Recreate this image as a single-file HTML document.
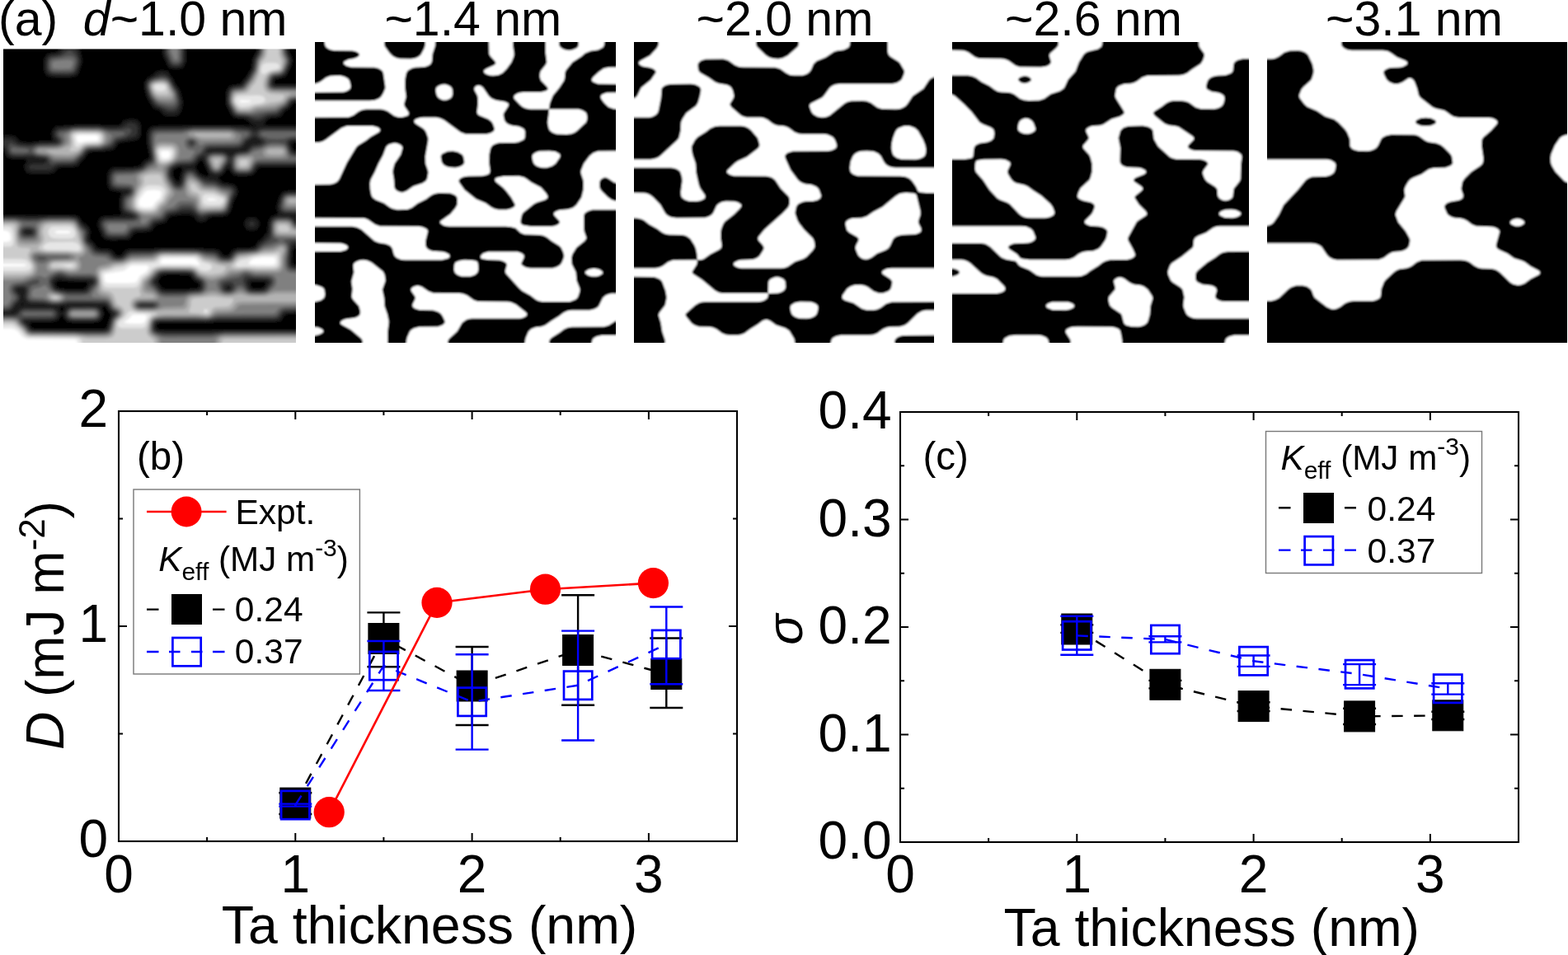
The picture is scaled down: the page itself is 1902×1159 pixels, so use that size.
<!DOCTYPE html><html><head><meta charset="utf-8"><title>Figure</title><style>html,body{margin:0;padding:0;background:#fff;overflow:hidden}svg{display:block}text{font-family:"Liberation Sans", Arial, sans-serif;fill:#000}</style></head><body>
<svg width="1902" height="1159" viewBox="0 0 1902 1159">
<rect width="1902" height="1159" fill="#fff"/>
<defs>
<clipPath id="cp1"><rect x="4" y="59.5" width="355" height="356.5"/></clipPath>
<clipPath id="cp2"><rect x="382" y="51" width="365" height="365"/></clipPath>
<clipPath id="cp3"><rect x="769" y="51" width="364" height="365"/></clipPath>
<clipPath id="cp4"><rect x="1155" y="51" width="360" height="365"/></clipPath>
<clipPath id="cp5"><rect x="1537" y="51" width="364" height="365"/></clipPath>
<filter id="soft" x="-5%" y="-5%" width="110%" height="110%"><feGaussianBlur stdDeviation="1.1"/></filter>
<filter id="soft2" x="-5%" y="-5%" width="110%" height="110%"><feGaussianBlur stdDeviation="1.8"/></filter>
</defs>
<g clip-path="url(#cp1)"><g filter="url(#soft2)"><rect x="-6" y="49.5" width="375" height="376" fill="#000"/><path fill="#1a1a1a" fill-rule="evenodd" d="M89.5 93.1L82.5 93.8L62.5 93.5L57.5 91.9L55.5 90.1L54.2 88.0L53.1 84.0L52.9 79.0L53.1 74.0L54.1 70.0L56.1 67.0L58.5 65.4L61.5 64.4L68.5 63.5L70.5 62.3L71.5 60.0L71.5 52.0L75.5 51.4L84.5 51.2L93.5 51.4L97.4 52.0L97.5 62.0L99.7 72.0L99.4 77.0L95.3 89.0L92.5 91.9L89.5 93.1ZM218.5 83.2L213.5 83.7L208.5 83.3L205.5 82.2L203.3 80.0L197.6 67.0L196.9 62.0L196.9 52.0L200.5 51.3L211.5 51.1L222.5 51.3L226.1 52.0L225.7 75.0L223.5 80.2L221.5 82.0L218.5 83.2ZM153.5 291.1L134.5 291.5L127.5 290.2L123.9 287.0L118.7 275.0L118.4 271.0L119.1 268.0L120.9 265.0L123.5 263.1L129.5 261.9L144.5 261.6L147.2 261.0L147.9 260.0L145.5 254.0L144.9 248.0L145.3 241.0L147.7 234.0L146.1 233.0L136.5 231.6L133.6 230.0L131.9 228.0L130.2 223.0L129.9 216.0L130.7 210.0L132.5 206.5L135.5 204.1L139.5 203.1L161.5 202.7L167.9 202.0L170.5 200.6L174.5 195.5L180.5 192.2L181.2 191.0L181.3 189.0L178.1 173.0L178.0 163.0L179.0 159.0L180.0 157.0L181.9 155.0L184.5 153.6L190.5 152.7L220.5 152.6L237.5 151.8L275.5 151.8L291.5 152.6L303.5 152.5L308.5 153.6L310.8 153.0L310.0 152.0L306.5 151.5L304.5 150.5L298.5 144.8L296.1 144.0L285.5 142.9L282.5 141.6L280.7 140.0L275.0 129.0L273.9 125.0L273.8 115.0L275.2 109.0L277.1 106.0L280.5 103.8L291.5 102.0L292.8 101.0L296.0 96.0L299.6 92.0L304.7 83.0L306.9 70.0L311.5 62.0L311.8 52.0L316.5 51.2L330.5 51.1L345.5 51.2L350.2 52.0L350.4 62.0L353.8 69.0L354.7 73.0L353.7 79.0L347.5 91.4L343.5 93.9L334.1 96.0L332.7 98.0L332.5 100.6L333.6 102.0L336.5 102.6L366.5 102.7L367.4 109.0L366.9 123.0L366.5 124.2L358.5 124.2L356.0 125.0L351.5 130.9L345.5 135.0L342.7 139.0L340.5 141.0L336.5 142.4L328.5 143.1L325.6 144.0L323.5 146.0L319.9 151.0L321.5 152.0L327.5 152.6L366.5 152.7L367.2 156.0L367.4 163.0L367.1 170.0L366.5 172.7L356.2 173.0L354.5 174.0L354.1 176.0L354.9 180.0L356.5 182.1L358.5 182.8L366.5 182.8L367.2 186.0L367.4 193.0L367.2 200.0L366.5 202.9L315.5 203.1L312.5 204.6L310.0 209.0L307.5 211.5L303.5 213.1L297.5 213.6L289.5 213.5L284.5 212.5L280.8 210.0L277.5 204.6L276.5 204.3L275.5 205.0L272.2 210.0L269.5 212.2L265.7 214.0L264.8 215.0L265.1 216.0L268.1 220.0L270.5 221.7L280.5 223.0L284.5 224.5L287.0 227.0L288.6 232.0L288.0 236.0L283.5 244.0L280.0 256.0L278.3 259.0L276.5 260.6L274.5 261.6L270.5 262.5L256.5 263.1L254.0 264.0L248.5 268.8L244.5 269.6L241.5 269.2L239.5 268.2L234.5 262.4L230.5 260.5L221.5 260.4L208.5 262.1L205.5 263.6L202.6 268.0L200.3 270.0L196.5 271.3L191.4 272.0L189.1 273.0L185.5 278.0L182.5 280.3L177.5 281.5L164.5 282.2L162.5 283.4L158.4 289.0L156.5 290.2L153.5 291.1ZM211.5 141.0L205.5 141.2L200.5 140.4L197.5 138.5L193.4 134.0L186.4 131.0L183.6 128.0L178.1 118.0L174.9 106.0L174.9 102.0L175.7 99.0L178.6 95.0L185.5 91.1L188.6 88.0L191.5 86.3L195.5 85.6L199.5 85.7L202.5 86.6L204.4 88.0L210.1 96.0L212.5 101.4L216.8 107.0L218.3 110.0L221.7 122.0L221.7 126.0L220.9 131.0L219.2 136.0L217.5 138.5L214.5 140.4L211.5 141.0ZM58.5 211.1L39.5 211.1L33.9 210.0L32.2 209.0L30.5 207.0L29.3 203.0L29.8 200.0L33.2 195.0L33.0 194.0L27.5 193.1L12.5 192.3L8.1 190.0L4.5 183.7L-3.5 183.7L-4.3 173.0L-3.5 164.2L10.5 164.2L15.5 164.8L18.5 166.1L23.5 171.3L27.5 172.4L37.5 172.9L46.5 171.8L60.5 171.5L63.2 171.0L64.1 170.0L62.4 163.0L63.5 158.0L65.9 155.0L69.5 153.3L93.5 151.4L118.5 151.4L131.5 152.6L141.5 152.5L144.4 152.0L146.2 151.0L149.5 147.1L151.5 145.7L157.5 144.5L162.5 144.6L165.5 145.3L168.3 147.0L169.8 149.0L171.2 154.0L171.0 163.0L169.4 167.0L166.5 169.6L163.5 170.6L145.5 173.0L143.5 174.3L139.5 180.2L135.5 182.3L124.5 183.8L111.5 184.3L108.5 184.9L107.0 186.0L103.6 191.0L99.3 195.0L96.5 199.2L93.5 201.5L88.5 202.7L72.5 203.3L69.5 204.8L66.5 208.4L64.5 209.8L58.5 211.1ZM253.9 213.0L245.7 195.0L244.5 194.1L243.5 194.2L242.4 195.0L237.3 202.0L237.0 203.0L237.5 204.0L242.5 210.8L244.5 212.3L249.5 213.9L252.5 213.7L253.9 213.0ZM217.3 220.0L219.7 210.0L221.9 205.0L221.5 203.9L218.5 203.1L214.5 203.5L211.6 205.0L210.3 207.0L209.4 211.0L210.3 214.0L214.2 220.0L215.5 220.8L217.3 220.0ZM366.5 423.9L-3.5 423.9L-4.5 423.0L-4.4 271.0L-4.2 264.0L-3.5 261.0L16.5 261.0L38.5 261.8L57.5 261.0L83.5 260.9L92.5 261.7L96.5 263.9L100.5 270.1L106.2 274.0L108.0 276.0L109.6 281.0L108.7 290.0L109.5 291.2L114.2 295.0L117.5 300.3L120.5 301.7L130.5 302.3L134.5 303.4L136.9 305.0L140.5 309.6L142.5 310.5L144.5 310.7L146.9 310.0L152.4 304.0L157.5 302.3L183.5 302.0L198.5 300.8L231.5 300.8L262.5 302.7L266.5 304.6L271.0 310.0L274.5 310.7L277.5 309.6L280.6 305.0L284.5 302.3L288.5 301.4L302.5 301.0L307.7 300.0L309.0 299.0L312.5 294.1L317.3 290.0L323.5 282.6L324.3 281.0L325.1 271.0L326.8 266.0L328.3 264.0L330.5 262.5L337.0 260.0L337.3 259.0L335.4 253.0L335.6 249.0L339.0 238.0L341.5 234.4L344.5 232.6L348.5 231.7L366.5 231.5L367.2 234.0L367.4 241.0L367.3 257.0L366.5 264.0L367.4 278.0L366.9 299.0L366.5 300.6L358.5 300.6L356.1 302.0L354.9 306.0L354.2 315.0L354.5 319.0L356.1 321.0L358.5 321.6L366.5 321.6L366.9 323.0L367.4 331.0L367.4 370.0L367.2 378.0L366.5 380.9L351.5 380.9L347.5 381.4L345.5 382.6L342.6 387.0L340.5 388.9L338.5 389.8L334.5 390.6L264.5 390.8L250.5 391.9L195.5 391.7L192.5 392.0L190.5 393.0L189.5 396.0L189.9 398.0L191.5 399.5L198.5 400.5L256.5 400.5L274.5 399.7L366.5 399.7L367.3 403.0L367.4 415.0L367.4 423.0L366.5 423.9ZM309.5 279.1L306.5 279.7L302.5 279.4L299.5 278.1L297.5 276.0L296.4 273.0L296.5 270.0L297.8 267.0L299.5 265.3L303.5 263.8L307.5 263.8L310.5 264.7L313.2 267.0L314.5 270.0L314.4 274.0L312.5 277.2L309.5 279.1ZM226.9 351.0L239.5 350.0L240.9 349.0L241.7 347.0L241.5 345.0L240.5 343.3L234.9 340.0L231.2 335.0L228.5 333.4L205.5 333.0L198.5 333.4L195.7 335.0L191.8 341.0L192.1 343.0L196.0 349.0L199.1 351.0L207.5 351.4L226.9 351.0ZM101.0 351.0L103.1 350.0L104.5 348.4L106.7 344.0L106.5 342.8L102.5 341.8L84.5 341.6L72.5 340.4L69.1 341.0L67.7 342.0L67.2 343.0L67.4 345.0L68.7 348.0L71.8 350.0L82.5 351.3L101.0 351.0ZM317.8 350.0L320.5 348.0L322.0 345.0L322.1 343.0L320.5 342.1L306.5 341.8L304.5 342.5L303.5 343.9L304.1 348.0L306.4 350.0L312.5 350.5L317.8 350.0ZM28.8 370.0L29.4 369.0L27.5 367.6L26.4 368.0L25.0 370.0L26.5 370.4L28.8 370.0ZM127.4 399.0L129.5 396.5L134.3 382.0L134.1 381.0L130.9 377.0L128.5 372.9L127.4 372.0L125.5 371.6L124.1 372.0L123.6 373.0L125.6 379.0L125.6 382.0L124.9 385.0L122.5 388.7L118.5 390.8L111.5 391.6L85.5 391.3L82.5 390.5L79.8 389.0L77.9 387.0L75.5 382.6L74.5 382.4L70.7 388.0L66.5 390.1L61.5 390.7L38.5 390.9L35.8 392.0L35.7 393.0L38.4 398.0L40.5 399.0L42.5 399.2L120.5 399.7L127.4 399.0ZM75.3 379.0L78.1 373.0L76.5 372.1L72.5 372.9L72.0 374.0L74.5 379.2L75.3 379.0Z"/><path fill="#333333" fill-rule="evenodd" d="M88.5 90.1L82.5 90.9L63.5 90.6L59.3 89.0L57.5 87.0L56.6 85.0L56.0 82.0L56.0 76.0L57.3 71.0L59.0 69.0L61.5 67.6L70.5 66.3L74.5 64.0L75.8 61.0L75.9 52.0L84.5 51.6L93.0 52.0L93.2 62.0L96.3 71.0L96.6 75.0L95.7 79.0L93.1 86.0L91.5 88.3L88.5 90.1ZM217.5 80.2L214.5 80.8L210.5 80.5L207.5 79.3L205.4 77.0L201.6 69.0L200.4 65.0L199.9 52.0L211.5 51.3L223.1 52.0L222.7 74.0L220.9 78.0L217.5 80.2ZM315.5 146.3L312.5 146.7L308.5 146.3L299.5 142.1L288.5 141.0L285.5 140.1L283.8 139.0L281.5 136.0L276.7 126.0L276.0 120.0L277.0 112.0L278.5 108.9L281.5 106.3L284.5 105.4L291.5 104.7L294.5 103.2L302.1 93.0L307.1 84.0L309.1 72.0L314.0 63.0L314.4 52.0L318.5 51.3L330.5 51.2L342.5 51.3L347.6 52.0L348.0 63.0L351.2 70.0L352.0 73.0L351.2 78.0L346.6 88.0L344.5 90.6L340.5 92.4L333.5 93.5L331.2 95.0L329.9 98.0L329.6 102.0L331.1 104.0L334.5 104.9L366.5 105.0L367.3 113.0L366.5 121.8L358.5 121.8L354.5 122.7L353.0 124.0L349.4 129.0L343.4 133.0L338.5 138.3L334.5 139.7L324.5 140.9L317.5 145.5L315.5 146.3ZM212.5 136.0L207.5 136.8L202.5 136.0L196.5 131.9L189.5 129.0L187.0 127.0L181.1 118.0L177.8 108.0L177.6 102.0L178.7 99.0L180.5 96.8L192.5 90.7L195.5 90.0L198.5 90.2L201.5 91.3L206.5 95.6L210.5 103.1L215.3 110.0L218.4 121.0L218.4 126.0L217.0 131.0L215.2 134.0L212.5 136.0ZM60.5 206.2L56.5 206.6L42.5 206.6L38.5 206.3L36.5 205.5L35.5 204.7L34.7 203.0L35.4 201.0L36.5 200.1L40.5 199.1L53.5 198.5L55.8 197.0L56.4 195.0L56.1 194.0L55.2 193.0L52.5 192.0L45.5 191.4L38.5 189.7L19.5 190.1L15.5 189.8L12.6 189.0L9.5 186.2L6.9 180.0L5.5 178.2L4.5 177.5L-3.5 177.5L-3.5 168.7L13.5 169.1L16.5 170.5L21.5 174.2L26.5 175.4L37.5 176.1L46.5 174.3L65.5 173.8L68.9 173.0L70.0 172.0L70.1 171.0L66.1 165.0L65.9 161.0L67.7 158.0L71.5 156.0L94.5 153.6L118.5 153.6L131.5 155.3L143.5 155.3L148.4 154.0L154.5 149.7L158.5 149.0L163.5 149.8L165.9 152.0L166.8 155.0L166.7 161.0L165.5 164.0L163.5 165.6L152.5 168.7L143.5 170.4L141.2 172.0L137.5 177.3L133.5 179.6L122.5 181.7L110.5 182.1L106.5 183.0L104.5 184.8L101.5 189.1L97.2 193.0L93.5 197.5L91.5 198.8L87.5 199.8L70.5 200.6L67.5 201.7L62.5 205.3L60.5 206.2ZM152.5 288.2L135.5 288.7L129.5 287.5L127.5 286.1L125.9 284.0L121.8 274.0L121.7 271.0L122.9 268.0L124.5 266.4L127.5 265.1L157.5 264.3L160.5 264.0L162.1 263.0L162.2 262.0L161.3 261.0L153.5 258.4L151.1 257.0L148.9 254.0L148.1 251.0L148.0 244.0L148.9 240.0L151.5 236.8L156.3 234.0L157.0 232.0L156.4 231.0L154.5 230.2L141.5 229.5L136.5 227.9L134.5 225.8L133.2 222.0L132.9 216.0L133.5 212.0L135.5 208.2L139.5 206.1L162.5 205.5L170.2 204.0L173.4 202.0L177.5 197.4L183.3 194.0L184.0 192.0L184.0 190.0L181.1 173.0L180.9 166.0L181.7 161.0L182.8 159.0L184.5 157.3L187.5 156.0L191.5 155.6L220.5 155.4L235.5 154.1L276.5 154.1L300.5 155.8L303.5 156.6L307.5 159.0L309.5 159.5L314.5 156.6L319.5 155.5L366.5 155.5L367.1 163.0L366.5 169.7L357.5 169.8L353.5 170.3L350.7 172.0L350.2 174.0L352.5 181.7L354.5 184.5L358.5 185.7L366.5 185.7L367.1 193.0L366.5 200.0L314.5 200.3L310.9 202.0L307.1 208.0L304.5 210.0L300.5 211.1L292.5 211.3L286.5 210.5L283.5 208.6L281.7 206.0L279.5 198.6L278.5 197.6L274.5 201.1L269.1 209.0L265.5 210.8L261.5 211.2L257.5 210.1L254.2 207.0L250.0 198.0L248.0 190.0L247.5 189.3L246.5 189.2L241.5 191.1L236.5 197.5L233.5 199.4L229.5 200.1L216.5 200.3L213.5 201.0L210.5 202.4L208.7 204.0L207.5 206.0L206.4 210.0L206.5 213.0L211.5 221.9L214.5 224.4L217.5 224.4L219.5 222.9L220.5 220.5L222.3 212.0L224.5 208.2L227.5 206.3L230.5 205.8L233.5 206.3L235.5 207.3L241.5 213.8L248.5 217.7L259.5 219.1L262.5 220.3L269.5 224.6L279.5 225.9L282.5 227.2L284.8 230.0L285.2 234.0L281.5 241.8L279.0 251.0L276.9 256.0L274.5 258.6L271.5 259.8L254.5 260.9L251.2 262.0L246.5 264.5L244.5 264.8L241.5 263.9L234.5 257.8L230.5 256.2L221.5 256.2L213.5 258.3L206.5 259.4L203.5 261.0L199.8 266.0L197.5 267.7L187.5 270.1L185.5 272.0L182.7 276.0L180.5 277.6L176.5 278.6L165.5 278.9L162.5 279.6L160.3 281.0L156.5 286.1L152.5 288.2ZM280.5 190.0L285.5 185.5L288.5 184.4L295.8 184.0L298.5 183.3L300.3 182.0L304.9 177.0L307.5 176.0L315.5 174.7L317.5 173.5L318.1 172.0L316.5 170.2L310.5 166.2L308.5 165.7L299.3 171.0L294.5 177.5L290.5 179.7L286.5 180.2L255.5 180.5L252.9 181.0L251.5 181.9L250.3 184.0L250.5 185.0L251.5 185.3L259.5 184.0L270.5 184.4L274.5 186.1L278.5 190.1L279.5 190.5L280.5 190.0ZM366.5 259.1L347.5 259.3L343.5 258.5L341.1 257.0L339.0 254.0L338.6 250.0L340.8 241.0L342.9 237.0L345.5 235.1L348.5 234.2L366.5 233.8L367.1 237.0L367.3 244.0L366.5 259.1ZM366.5 423.8L-3.5 423.9L-4.3 423.0L-4.3 411.0L-4.2 388.0L-3.5 381.6L17.5 381.6L20.5 380.1L24.5 375.4L29.5 373.9L63.5 373.6L67.5 375.4L70.0 379.0L69.9 383.0L68.5 385.3L66.5 386.7L60.5 387.9L32.5 388.2L29.8 389.0L29.2 390.0L29.4 391.0L36.5 399.8L40.5 401.3L121.5 402.0L127.5 401.6L130.6 400.0L131.8 398.0L135.1 387.0L138.9 381.0L138.5 380.0L133.8 376.0L130.0 370.0L126.5 368.4L81.5 368.5L64.5 370.6L53.5 368.6L36.5 367.8L32.5 365.6L30.3 362.0L30.1 359.0L31.1 353.0L30.5 350.6L28.5 349.2L25.5 348.9L21.5 349.4L19.4 351.0L19.6 353.0L24.2 359.0L24.6 362.0L23.2 365.0L18.5 369.8L14.5 375.6L11.5 377.5L8.5 378.2L-3.5 378.5L-4.2 369.0L-4.3 287.0L-4.2 269.0L-3.5 263.2L17.5 263.3L32.5 264.6L44.5 264.5L59.5 263.2L85.5 263.3L91.5 264.1L94.6 266.0L98.5 272.2L105.2 278.0L106.5 282.0L105.4 289.0L105.9 292.0L107.5 294.0L111.5 297.1L115.5 302.9L119.5 304.6L131.5 305.6L134.5 307.4L138.6 312.0L143.5 313.2L146.5 312.9L149.0 312.0L154.5 306.6L158.5 305.2L183.5 304.7L194.5 303.1L202.5 302.9L236.5 303.0L249.5 304.7L259.5 305.2L263.5 306.6L267.6 311.0L269.5 312.3L272.5 313.1L276.5 313.0L279.5 311.5L283.5 306.1L286.5 304.3L290.5 303.6L305.5 302.9L309.5 302.0L311.1 301.0L315.5 296.0L321.7 291.0L326.1 286.0L327.2 282.0L328.1 270.0L329.6 267.0L331.5 265.1L335.5 263.5L343.5 262.8L348.5 262.8L352.5 263.7L355.5 265.8L358.5 270.2L366.5 270.2L366.9 273.0L367.2 285.0L366.5 295.9L357.5 296.0L355.5 296.6L354.0 298.0L352.5 302.8L351.2 316.0L351.7 321.0L353.5 323.3L356.5 324.4L366.5 324.5L366.6 325.0L367.2 332.0L367.3 362.0L367.1 373.0L366.5 378.0L346.5 378.5L343.5 380.0L338.5 386.2L335.5 387.4L332.5 387.8L265.5 387.9L250.5 389.7L192.5 389.7L189.5 390.5L187.9 392.0L187.1 394.0L187.0 398.0L187.6 400.0L190.2 402.0L194.5 403.0L199.5 403.4L256.5 403.4L273.5 402.0L366.5 402.0L367.2 406.0L367.3 415.0L367.3 423.0L366.5 423.8ZM307.5 274.2L305.5 274.7L303.1 274.0L301.8 272.0L302.5 270.0L305.5 268.7L308.5 269.9L309.2 272.0L307.5 274.2ZM35.6 284.0L38.6 283.0L39.1 281.0L38.3 280.0L35.5 279.2L32.5 279.3L29.9 280.0L29.0 281.0L29.5 283.0L30.5 283.6L35.6 284.0ZM222.7 354.0L241.8 352.0L243.5 350.9L244.6 349.0L244.8 346.0L244.2 343.0L242.3 341.0L237.0 338.0L231.8 332.0L226.5 330.9L201.5 330.9L196.5 331.5L193.5 333.1L187.3 341.0L187.4 343.0L188.0 344.0L193.6 351.0L196.5 353.3L201.5 354.1L222.7 354.0ZM101.0 354.0L103.5 353.5L105.5 352.3L109.4 347.0L112.8 344.0L113.8 342.0L112.8 340.0L108.5 338.9L83.5 338.6L72.5 336.3L69.5 336.8L66.7 338.0L63.6 341.0L63.5 344.0L65.1 348.0L66.5 350.0L69.5 351.8L81.5 354.0L101.0 354.0ZM320.1 352.0L322.8 350.0L326.7 344.0L327.1 342.0L325.5 339.8L321.5 338.9L303.5 338.5L301.5 338.8L299.9 340.0L299.2 343.0L300.2 347.0L301.5 350.0L303.5 351.7L306.5 352.6L310.5 352.8L316.5 352.7L320.1 352.0ZM279.5 351.0L280.3 349.0L279.5 347.3L278.5 346.6L275.5 346.3L273.1 348.0L272.9 350.0L274.5 351.6L277.5 351.9L279.5 351.0ZM114.5 389.1L92.5 389.3L85.5 388.7L82.5 387.5L80.2 385.0L79.1 382.0L79.3 379.0L81.5 374.9L83.5 373.4L86.5 372.2L91.5 371.7L108.5 371.7L116.5 372.5L119.5 374.0L121.4 376.0L122.7 379.0L122.8 382.0L121.8 385.0L120.1 387.0L117.5 388.5L114.5 389.1Z"/><path fill="#4c4c4c" fill-rule="evenodd" d="M216.5 78.1L213.5 78.5L210.5 78.1L208.5 77.0L206.5 74.5L202.3 64.0L202.0 52.0L211.5 51.5L221.0 52.0L220.7 73.0L219.4 76.0L216.5 78.1ZM315.5 142.2L312.5 142.7L308.5 142.5L299.5 140.3L288.5 139.4L285.4 138.0L282.9 135.0L278.0 125.0L277.6 119.0L278.8 112.0L280.5 109.3L282.5 107.8L285.5 106.9L292.5 106.1L295.1 105.0L303.5 94.0L308.5 84.8L310.9 72.0L315.5 63.7L316.0 52.0L320.5 51.4L330.5 51.3L341.5 51.4L346.0 52.0L346.3 63.0L350.0 72.0L349.8 77.0L345.9 86.0L343.5 89.3L340.5 90.8L332.5 92.2L329.9 94.0L328.2 98.0L327.9 103.0L329.5 105.2L333.5 106.4L366.5 106.5L367.1 113.0L366.5 120.3L358.5 120.3L354.3 121.0L351.6 123.0L347.9 128.0L341.7 132.0L336.5 136.7L333.5 137.6L323.5 138.7L315.5 142.2ZM87.5 88.0L82.5 88.7L68.5 88.7L64.5 88.5L61.5 87.5L59.5 85.7L58.3 83.0L58.1 77.0L58.9 73.0L60.4 71.0L62.5 69.8L73.5 67.9L77.1 66.0L83.5 61.5L85.5 61.5L91.5 66.8L93.4 70.0L94.3 73.0L94.0 77.0L91.7 84.0L89.5 86.9L87.5 88.0ZM211.5 132.0L207.5 132.8L203.5 132.3L191.5 127.4L188.2 125.0L182.5 117.0L179.3 108.0L178.9 105.0L179.1 102.0L181.5 98.1L186.5 95.5L195.5 92.9L200.5 93.6L203.5 95.3L205.5 97.1L209.5 104.5L213.8 111.0L216.2 120.0L216.4 124.0L215.7 127.0L214.0 130.0L211.5 132.0ZM66.5 199.1L63.5 199.9L61.5 199.7L60.5 198.3L58.7 193.0L56.5 191.2L54.5 190.5L45.5 189.6L37.5 187.0L26.5 188.0L18.5 187.9L14.5 187.2L12.5 186.0L10.6 183.0L10.1 179.0L10.5 175.4L11.5 174.3L13.5 173.9L22.5 177.2L37.5 178.8L44.5 176.3L47.5 175.8L69.5 175.1L72.5 173.4L73.2 171.0L72.3 169.0L69.5 166.0L68.4 164.0L68.3 162.0L69.5 159.8L72.5 158.2L80.5 157.3L89.5 155.2L119.5 155.1L131.5 157.4L137.5 157.7L145.5 157.4L155.5 155.4L157.5 155.7L159.2 157.0L159.4 160.0L158.0 162.0L155.7 164.0L150.5 166.7L141.5 168.8L139.5 170.4L136.3 175.0L133.5 177.1L122.5 180.2L109.5 180.8L105.5 181.7L103.5 183.4L99.5 188.6L90.5 196.7L86.5 197.7L72.5 198.0L66.5 199.1ZM151.5 286.1L137.5 286.5L131.5 285.8L129.5 284.7L128.0 283.0L124.1 274.0L124.0 272.0L124.6 270.0L126.5 268.0L128.5 267.3L133.5 266.8L160.5 266.6L164.5 265.4L165.9 263.0L165.1 261.0L163.5 259.7L152.5 255.0L151.0 253.0L150.3 251.0L150.1 245.0L151.0 241.0L152.6 239.0L158.7 235.0L159.7 233.0L159.3 230.0L157.5 228.4L155.5 227.9L142.5 227.4L138.0 226.0L136.5 224.5L135.4 222.0L135.0 217.0L135.5 213.0L137.2 210.0L140.5 208.3L161.5 207.6L170.5 205.7L173.5 204.3L178.5 199.6L184.5 196.0L185.5 194.0L185.7 191.0L183.3 174.0L183.0 167.0L183.5 162.8L185.5 159.6L187.5 158.4L190.5 157.8L220.5 157.6L234.5 155.7L273.5 155.7L279.5 155.8L289.5 157.4L299.5 158.0L302.5 158.9L304.0 160.0L305.1 162.0L304.2 165.0L297.5 169.4L293.3 175.0L290.5 177.0L285.5 177.7L256.5 177.9L251.5 178.6L248.5 180.9L245.1 186.0L239.5 189.7L235.5 195.1L233.5 196.7L229.5 197.7L218.5 198.0L214.5 198.8L208.2 202.0L206.3 204.0L205.4 206.0L204.5 211.0L205.5 215.6L210.5 223.9L212.5 225.8L214.5 226.7L217.5 226.9L220.5 225.1L221.6 223.0L224.6 212.0L227.5 209.0L230.5 208.3L234.5 209.6L240.1 215.0L248.5 220.8L251.5 221.6L259.5 222.3L269.5 226.8L277.5 227.8L280.7 229.0L282.5 231.0L282.8 234.0L280.3 240.0L276.9 252.0L275.5 255.0L273.6 257.0L269.5 258.6L254.5 259.2L244.5 261.6L240.5 260.0L234.5 254.3L231.5 252.5L227.5 252.0L221.5 252.3L212.8 256.0L203.5 258.1L201.5 259.7L197.4 265.0L194.5 266.3L186.5 268.0L184.5 269.6L181.3 274.0L178.5 275.9L174.5 276.6L164.5 276.8L160.5 277.9L158.5 279.5L154.5 284.7L151.5 286.1ZM301.5 209.3L290.5 209.6L285.5 207.9L283.7 206.0L282.4 203.0L281.7 197.0L282.0 193.0L283.5 189.8L286.5 187.2L289.5 186.2L299.4 185.0L301.5 183.8L306.5 179.0L316.5 177.0L321.5 174.0L322.8 172.0L322.6 171.0L320.2 169.0L314.8 166.0L313.1 164.0L312.9 162.0L314.5 159.6L317.5 158.2L321.5 157.7L366.5 157.7L366.9 163.0L366.5 167.5L352.5 168.1L348.1 170.0L346.7 172.0L351.5 184.0L353.5 186.6L357.5 187.9L366.5 187.9L366.9 193.0L366.5 197.9L313.5 198.2L311.5 198.9L309.5 200.6L305.5 207.1L301.5 209.3ZM233.9 175.0L234.5 173.0L233.7 172.0L232.5 171.6L230.9 172.0L230.2 173.0L231.1 175.0L232.5 175.5L233.9 175.0ZM264.5 209.2L261.5 209.4L258.5 208.6L256.4 207.0L254.0 203.0L251.1 196.0L250.6 193.0L251.5 189.4L254.5 187.0L260.5 185.9L269.5 186.2L273.5 187.8L276.1 191.0L276.5 194.0L275.3 197.0L268.6 207.0L266.5 208.5L264.5 209.2ZM366.5 256.9L347.5 256.8L344.5 256.1L342.6 255.0L340.8 252.0L340.8 249.0L342.3 242.0L344.5 238.0L346.5 236.5L350.5 235.5L366.5 235.3L367.1 244.0L366.5 256.9ZM366.5 423.7L-3.5 423.8L-4.2 423.0L-4.2 411.0L-4.1 390.0L-3.5 383.6L15.5 383.7L20.5 383.2L22.5 382.0L25.5 377.9L27.5 376.7L30.5 376.1L62.5 376.2L65.5 377.2L67.6 380.0L67.0 383.0L64.5 384.9L59.5 385.7L29.4 386.0L26.5 387.2L26.0 389.0L26.5 390.9L31.5 396.0L35.4 401.0L39.5 402.6L124.5 403.5L129.5 402.8L132.0 401.0L133.5 398.0L136.4 388.0L141.7 381.0L140.9 379.0L135.3 375.0L130.8 368.0L129.4 367.0L126.5 366.2L83.5 366.1L72.5 368.3L66.5 368.7L62.5 368.4L53.5 366.3L37.5 365.5L34.4 364.0L32.7 361.0L33.6 352.0L33.2 349.0L31.5 347.0L28.5 346.5L20.5 347.1L18.3 348.0L16.6 350.0L16.5 353.0L21.3 359.0L21.8 362.0L20.8 364.0L17.0 368.0L12.5 374.0L10.5 375.1L7.5 375.8L-3.5 375.9L-4.0 368.0L-4.2 287.0L-4.1 271.0L-3.5 264.8L17.5 264.9L33.5 266.8L44.5 266.6L58.5 264.8L84.5 264.8L90.5 265.6L93.5 267.4L97.7 274.0L103.5 279.7L104.3 282.0L103.5 290.0L104.2 293.0L105.6 295.0L110.0 299.0L114.4 305.0L118.5 306.7L130.5 307.8L132.7 309.0L137.5 313.6L140.5 314.6L143.5 314.8L149.5 313.7L155.5 308.7L159.5 307.2L183.5 306.8L194.5 304.6L202.5 304.3L239.5 304.6L249.5 306.7L259.5 307.4L262.5 308.7L266.5 312.6L268.9 314.0L273.5 314.8L277.5 314.4L280.5 312.9L284.5 307.6L287.5 305.8L290.5 305.2L306.5 304.2L311.2 303.0L317.5 297.4L327.8 291.0L328.7 290.0L329.1 288.0L329.4 272.0L330.4 269.0L332.5 266.6L335.5 265.3L339.5 264.8L347.5 264.8L351.5 265.5L354.5 267.4L358.5 272.8L366.5 272.8L366.7 274.0L367.1 283.0L366.5 292.4L355.5 292.6L353.2 293.0L351.6 294.0L351.0 296.0L350.7 303.0L349.1 316.0L349.7 322.0L350.7 324.0L352.5 325.5L356.5 326.6L366.5 326.7L367.0 333.0L367.2 361.0L366.5 375.9L345.5 376.4L342.2 378.0L337.4 384.0L334.5 385.3L331.5 385.7L265.5 385.8L250.5 388.3L235.5 387.8L192.5 388.2L189.0 389.0L186.6 391.0L185.6 394.0L185.4 399.0L186.5 401.5L188.5 403.2L193.5 404.8L199.5 405.5L256.5 405.5L273.5 403.6L366.5 403.5L367.2 415.0L367.2 423.0L366.5 423.7ZM38.6 286.0L40.6 285.0L42.0 282.0L41.5 279.4L39.5 277.5L35.5 276.8L30.5 277.0L28.2 278.0L26.5 280.0L26.3 283.0L28.5 285.6L32.5 286.4L38.6 286.0ZM222.7 356.0L231.5 354.6L241.5 353.9L244.5 352.6L246.5 350.0L246.9 345.0L245.5 341.3L243.5 339.6L238.5 336.9L234.4 332.0L231.5 330.2L224.5 329.5L201.5 329.5L196.1 330.0L193.5 331.0L191.5 332.6L185.9 339.0L184.8 341.0L184.6 343.0L185.6 345.0L193.5 353.8L196.5 355.6L202.5 356.3L222.7 356.0ZM102.6 356.0L105.5 355.1L107.0 354.0L110.7 349.0L115.5 344.3L116.1 341.0L115.5 339.4L114.2 338.0L112.5 337.2L109.5 336.7L84.5 336.5L72.5 333.3L69.5 333.8L65.5 335.7L62.6 338.0L61.3 340.0L60.9 343.0L62.7 348.0L64.8 351.0L67.5 352.7L82.5 356.1L102.6 356.0ZM318.9 354.0L321.5 353.3L323.6 352.0L328.9 345.0L329.7 343.0L329.8 341.0L328.7 339.0L327.6 338.0L323.5 336.9L308.5 336.5L300.5 335.0L298.5 335.2L296.2 337.0L294.6 340.0L294.8 342.0L299.0 350.0L301.5 352.7L306.5 354.2L318.9 354.0ZM280.7 353.0L282.8 351.0L283.7 349.0L283.8 345.0L282.7 343.0L280.5 342.2L276.5 342.1L272.5 343.0L270.9 344.0L269.8 346.0L269.6 348.0L269.8 350.0L271.0 352.0L272.5 353.1L275.5 353.9L278.5 353.7L280.7 353.0ZM186.4 372.0L187.6 371.0L187.6 370.0L186.4 369.0L183.5 368.4L171.5 368.4L169.1 369.0L168.0 370.0L168.0 371.0L169.0 372.0L171.5 372.6L181.5 372.8L186.4 372.0ZM115.5 387.3L103.5 387.8L86.5 387.3L83.6 386.0L81.8 384.0L81.0 382.0L81.2 379.0L83.5 375.7L87.5 374.1L108.5 373.8L115.5 374.3L117.5 375.1L119.5 376.6L120.8 379.0L121.1 381.0L120.7 383.0L119.5 385.0L117.5 386.5L115.5 387.3Z"/><path fill="#666666" fill-rule="evenodd" d="M214.5 76.1L210.5 75.5L208.9 74.0L207.5 71.6L204.3 63.0L204.1 52.0L218.9 52.0L218.6 72.0L217.0 75.0L214.5 76.1ZM311.5 139.1L305.5 139.5L290.5 138.3L287.5 137.5L285.5 136.1L281.0 129.0L279.0 124.0L278.8 119.0L279.9 113.0L281.5 110.4L283.5 109.0L293.5 107.4L296.2 106.0L304.5 95.0L309.8 85.0L312.0 73.0L316.9 64.0L317.3 52.0L330.5 51.4L344.7 52.0L344.9 63.0L348.6 72.0L348.9 74.0L348.3 77.0L345.0 85.0L342.5 88.3L339.5 89.8L332.1 91.0L328.9 93.0L326.8 98.0L326.3 102.0L326.6 104.0L328.5 106.4L332.5 107.7L366.5 107.9L366.9 113.0L366.5 118.9L357.5 119.0L353.0 120.0L350.6 122.0L346.5 127.2L334.5 135.2L323.5 136.3L311.5 139.1ZM85.5 86.2L69.5 86.6L63.5 85.9L61.5 84.4L60.4 82.0L60.2 77.0L61.0 74.0L62.5 72.4L64.5 71.6L72.5 70.6L80.5 68.4L85.5 68.1L88.5 68.9L91.5 72.0L91.9 76.0L89.5 83.3L88.1 85.0L85.5 86.2ZM210.5 128.2L206.5 128.8L202.5 128.3L192.5 125.4L188.5 122.6L183.5 116.0L180.6 108.0L180.2 103.0L180.9 101.0L182.5 99.0L187.5 96.6L195.5 94.9L200.5 95.5L204.5 98.1L212.2 111.0L213.6 115.0L214.3 121.0L214.1 124.0L212.5 126.8L210.5 128.2ZM70.5 196.0L64.5 196.1L57.8 190.0L54.5 189.0L44.5 187.8L41.1 186.0L38.2 183.0L39.7 181.0L42.4 179.0L46.5 177.5L67.5 177.0L72.5 175.7L74.7 174.0L75.8 171.0L74.6 168.0L71.4 164.0L71.5 161.9L73.5 160.5L80.5 159.2L88.5 156.6L95.5 156.1L119.5 156.2L123.5 156.9L132.5 159.6L148.5 160.0L151.0 161.0L151.3 162.0L150.9 163.0L149.7 164.0L142.5 165.7L139.5 167.1L134.5 173.6L131.5 175.5L122.5 178.8L108.5 179.6L104.5 180.8L102.5 182.5L98.5 187.5L89.5 194.8L85.5 195.7L70.5 196.0ZM149.5 284.2L136.5 284.3L131.5 283.2L129.4 281.0L127.2 276.0L126.4 273.0L127.0 271.0L129.5 269.4L132.5 269.0L162.5 268.8L166.7 267.0L168.3 265.0L168.5 263.0L167.6 261.0L165.2 259.0L154.5 253.6L153.0 252.0L152.3 250.0L152.2 245.0L153.0 242.0L154.5 240.3L159.2 237.0L161.1 234.0L161.6 231.0L160.6 228.0L158.5 226.3L156.5 225.7L143.5 225.3L139.5 224.1L138.3 223.0L137.4 221.0L137.5 214.0L138.6 212.0L141.5 210.4L161.5 209.7L170.5 207.3L174.5 205.5L179.5 201.5L185.5 198.1L186.6 196.0L187.0 193.0L185.5 182.0L185.2 166.0L185.9 163.0L187.5 161.1L192.5 159.9L220.5 159.7L234.5 157.1L274.5 157.0L280.5 157.4L289.5 159.5L298.5 160.3L300.4 161.0L301.4 162.0L301.0 164.0L295.5 167.9L291.5 173.5L288.5 175.1L282.5 175.6L255.5 175.7L249.5 176.8L246.8 179.0L243.6 184.0L237.9 188.0L234.2 193.0L232.5 194.5L229.5 195.5L219.5 195.9L214.5 197.0L207.1 201.0L204.9 203.0L203.4 206.0L203.0 212.0L204.5 217.2L209.5 225.4L211.5 227.4L214.5 229.0L218.5 229.1L221.5 227.1L222.9 224.0L225.7 214.0L227.5 211.7L230.5 210.6L232.5 211.0L234.2 212.0L246.5 222.2L248.5 223.4L260.5 224.9L269.5 228.8L276.5 229.9L279.2 231.0L280.0 232.0L280.3 234.0L277.5 246.0L275.0 253.0L272.5 255.9L268.5 257.3L255.5 257.7L244.5 259.4L242.5 258.8L239.8 257.0L234.5 250.2L232.5 248.7L227.5 248.0L220.5 248.5L218.5 249.3L212.5 253.5L204.5 255.2L201.5 256.5L195.5 263.5L193.5 264.3L187.5 265.2L184.5 266.4L178.5 273.3L174.5 274.4L164.5 274.4L160.5 275.2L157.5 277.1L153.5 282.4L149.5 284.2ZM343.5 168.2L335.5 168.8L326.5 168.2L318.2 165.0L316.9 164.0L316.6 162.0L318.5 160.6L322.5 160.0L366.5 160.0L366.5 165.2L353.5 165.4L343.5 168.2ZM235.3 178.0L237.6 175.0L237.6 173.0L236.4 171.0L234.5 169.7L232.5 169.2L230.5 169.3L228.5 170.2L227.0 173.0L227.3 175.0L228.5 177.0L231.5 178.7L233.5 178.7L235.3 178.0ZM300.5 208.0L290.5 208.2L287.5 207.4L285.5 205.9L283.9 203.0L283.3 197.0L283.7 193.0L285.3 190.0L287.5 188.4L289.5 187.7L300.5 186.3L302.9 185.0L307.8 181.0L316.5 179.2L326.5 174.3L330.5 173.6L337.5 173.6L343.5 174.5L345.5 175.8L347.5 178.1L350.5 186.1L352.5 188.8L356.5 190.2L366.5 190.3L366.5 195.5L317.5 195.8L312.5 196.3L310.5 197.2L308.6 199.0L304.4 206.0L300.5 208.0ZM32.5 185.0L26.5 185.6L16.5 185.2L14.3 184.0L13.6 183.0L13.3 181.0L14.5 179.1L16.5 178.6L22.5 179.8L31.5 180.6L34.9 182.0L35.6 183.0L34.7 184.0L32.5 185.0ZM265.5 207.3L262.5 207.9L259.5 207.3L257.5 205.9L256.1 204.0L253.0 197.0L252.2 194.0L252.7 191.0L254.5 188.9L258.5 187.6L267.5 187.5L271.5 188.4L274.2 191.0L274.7 193.0L274.0 196.0L268.3 205.0L265.5 207.3ZM366.5 254.8L349.5 254.8L346.5 254.4L344.5 253.4L343.3 252.0L342.8 249.0L343.6 243.0L344.8 240.0L346.9 238.0L350.5 236.9L366.5 236.6L367.0 244.0L366.5 254.8ZM366.5 423.6L-3.5 423.6L-4.2 423.0L-4.2 413.0L-4.1 392.0L-3.5 385.1L16.5 385.2L21.5 385.8L22.9 387.0L25.5 392.3L30.5 396.9L33.5 401.0L35.5 402.6L38.5 403.7L89.5 404.0L104.5 404.9L125.5 404.8L130.5 404.0L133.1 402.0L134.6 399.0L137.3 389.0L139.4 386.0L142.6 383.0L143.6 380.0L142.4 378.0L136.4 374.0L131.5 366.1L127.5 364.2L84.5 363.7L80.5 364.3L72.5 367.0L66.5 367.5L61.5 366.8L53.5 364.2L40.5 363.7L37.5 363.0L35.5 361.4L34.9 359.0L36.5 349.5L38.5 346.5L45.5 344.7L47.5 343.5L48.1 341.0L47.5 340.0L45.5 339.1L40.1 340.0L30.5 343.6L19.5 345.0L16.5 346.2L14.3 349.0L13.8 352.0L14.8 355.0L18.8 360.0L19.0 361.0L18.4 363.0L14.8 367.0L12.2 371.0L9.5 373.0L5.5 373.7L-3.5 373.7L-4.1 287.0L-4.0 272.0L-3.5 266.1L17.5 266.3L28.5 268.7L34.5 269.2L44.5 268.7L52.5 266.8L57.5 266.2L83.5 266.1L89.5 266.8L92.9 269.0L96.5 275.0L101.8 281.0L102.3 283.0L102.0 290.0L102.6 293.0L104.5 296.3L108.9 301.0L112.5 306.5L116.5 308.6L129.5 309.8L136.5 315.2L143.5 316.2L149.5 315.2L156.5 310.4L159.5 309.3L183.5 308.8L194.5 305.8L202.5 305.4L239.5 305.8L249.5 308.6L259.5 309.6L261.5 310.6L266.5 314.5L269.5 315.7L273.5 316.1L277.5 315.8L281.3 314.0L285.3 309.0L287.5 307.4L290.5 306.6L301.5 306.0L310.5 304.7L313.5 303.3L318.5 299.5L321.5 297.9L332.5 294.7L339.3 292.0L333.5 289.0L331.4 286.0L330.6 282.0L330.4 277.0L330.6 273.0L331.5 270.1L333.5 267.8L337.5 266.4L346.5 266.2L351.5 267.2L353.5 268.6L358.5 274.6L366.5 274.6L366.6 275.0L367.0 282.0L366.5 289.9L351.5 290.1L345.5 291.0L343.6 292.0L347.5 295.2L349.1 299.0L349.2 304.0L347.3 316.0L347.5 321.2L348.6 325.0L350.5 327.1L353.5 328.4L366.5 328.9L367.0 361.0L366.5 373.8L348.5 373.9L343.5 374.6L340.5 376.3L336.1 382.0L334.2 383.0L331.5 383.5L265.5 383.8L261.5 384.3L254.5 386.5L250.5 387.0L236.5 386.4L192.5 386.9L188.5 387.8L185.7 390.0L184.5 393.1L184.1 399.0L185.0 402.0L187.5 404.3L194.5 406.9L200.5 407.7L256.5 407.6L267.5 405.4L273.5 404.9L366.5 404.9L367.1 415.0L367.1 423.0L366.5 423.6ZM39.8 288.0L42.5 286.2L43.7 283.0L43.5 279.0L41.5 275.9L37.5 274.5L31.5 274.5L28.5 275.3L25.5 278.0L24.5 280.8L24.5 283.0L25.1 285.0L26.5 287.0L28.5 288.0L31.5 288.5L39.8 288.0ZM53.8 315.0L56.1 314.0L57.0 313.0L54.8 312.0L48.5 311.5L45.6 312.0L45.2 313.0L46.5 314.5L48.5 315.2L53.8 315.0ZM222.4 358.0L231.3 356.0L243.5 354.8L246.7 353.0L248.6 350.0L249.0 345.0L247.6 341.0L245.5 339.0L239.5 335.8L235.2 331.0L232.5 329.2L225.5 328.4L200.5 328.4L195.5 328.9L192.5 330.0L189.9 332.0L184.6 338.0L182.7 341.0L182.4 344.0L183.5 346.2L192.5 355.3L195.5 357.3L201.5 358.3L222.4 358.0ZM104.6 358.0L108.5 355.9L117.0 345.0L117.6 343.0L117.5 340.0L115.8 337.0L113.5 335.3L108.5 334.5L85.5 334.5L81.5 333.7L75.5 331.5L71.5 331.2L67.9 332.0L63.9 334.0L61.2 336.0L59.1 339.0L58.5 343.0L60.3 348.0L63.4 352.0L66.5 353.8L83.5 358.5L99.5 358.6L104.6 358.0ZM321.0 355.0L323.5 354.0L326.1 352.0L330.4 347.0L332.0 344.0L332.3 341.0L331.7 339.0L330.3 337.0L327.5 335.4L323.5 334.8L308.5 334.4L300.5 332.1L297.5 332.0L294.6 333.0L290.5 336.2L288.5 337.1L279.5 338.2L270.5 340.5L267.8 342.0L266.7 344.0L266.8 348.0L267.8 351.0L270.5 353.9L273.5 355.1L278.5 355.3L282.3 354.0L284.7 352.0L287.5 347.9L290.5 346.2L293.5 346.9L299.1 353.0L302.5 354.9L309.5 355.6L321.0 355.0ZM184.9 374.0L188.5 373.1L190.2 372.0L191.0 370.0L190.5 368.8L188.5 367.5L185.5 366.9L172.5 366.8L167.5 367.7L165.5 370.0L165.5 371.0L166.5 372.5L169.5 373.8L184.9 374.0ZM113.5 386.2L93.5 386.4L87.5 386.0L83.7 384.0L82.6 382.0L82.6 380.0L84.5 376.9L88.5 375.5L108.5 375.2L114.5 375.6L116.5 376.3L118.5 377.9L119.5 381.0L119.0 383.0L117.5 384.7L113.5 386.2ZM61.5 383.1L30.5 383.3L27.5 382.4L27.0 381.0L29.0 379.0L32.5 378.4L59.5 378.4L62.5 378.9L64.1 380.0L64.4 381.0L63.8 382.0L61.5 383.1Z"/><path fill="#808080" fill-rule="evenodd" d="M214.5 72.2L213.5 72.6L211.5 71.8L207.8 64.0L207.2 61.0L207.2 52.0L215.8 52.0L215.7 69.0L215.4 71.0L214.5 72.2ZM306.5 137.2L302.5 137.5L291.5 137.1L288.5 136.4L286.5 135.2L282.3 129.0L280.2 124.0L279.9 120.0L280.9 114.0L282.5 111.4L284.5 110.1L293.5 108.8L296.5 107.6L298.2 106.0L305.4 96.0L310.7 86.0L313.3 73.0L317.9 65.0L318.6 61.0L318.6 52.0L330.5 51.6L343.4 52.0L343.6 63.0L344.3 66.0L347.4 73.0L346.9 77.0L343.7 85.0L341.5 87.6L338.5 88.9L331.4 90.0L329.3 91.0L327.5 92.8L326.0 96.0L325.1 100.0L325.5 105.0L326.5 106.6L328.3 108.0L332.5 109.1L366.5 109.3L366.5 117.6L356.5 117.7L352.5 118.6L350.5 120.0L345.5 126.2L334.0 133.0L313.5 135.3L306.5 137.2ZM84.5 83.2L72.5 83.8L65.5 83.2L63.5 81.0L63.4 77.0L64.7 75.0L67.5 74.1L81.5 72.5L86.5 72.9L88.5 75.0L88.4 77.0L86.5 82.0L84.5 83.2ZM209.5 124.3L204.5 124.9L196.5 124.0L192.5 123.0L189.5 121.1L185.1 116.0L182.5 110.4L181.2 105.0L181.4 103.0L182.5 100.8L186.5 98.2L194.5 96.5L199.5 96.8L203.5 98.9L205.5 101.6L211.9 114.0L211.9 121.0L211.1 123.0L209.5 124.3ZM87.5 193.2L82.5 193.6L66.5 193.5L64.5 192.8L60.5 189.7L57.5 188.2L47.5 187.0L44.5 186.1L42.2 184.0L42.2 182.0L44.1 180.0L47.5 178.8L67.5 178.4L73.7 177.0L76.5 175.0L78.5 172.0L78.5 169.0L77.0 165.0L77.5 163.3L85.4 159.0L89.5 157.6L96.5 157.2L120.5 157.5L125.5 158.9L135.9 164.0L135.5 166.0L133.0 171.0L131.1 173.0L128.1 175.0L121.5 177.8L108.5 178.5L104.5 179.4L102.2 181.0L96.9 187.0L90.5 191.8L87.5 193.2ZM175.5 271.1L172.5 271.2L170.5 270.5L170.3 269.0L171.8 265.0L170.9 262.0L167.7 259.0L157.8 253.0L155.2 250.0L154.8 246.0L155.5 243.3L160.5 237.9L162.9 233.0L163.1 229.0L161.8 225.0L160.5 223.9L157.5 222.9L142.5 222.0L140.6 220.0L140.4 216.0L141.4 214.0L143.8 213.0L158.5 212.7L163.5 211.7L174.5 207.3L180.5 203.3L186.5 200.7L187.7 199.0L188.3 195.0L186.7 183.0L186.8 178.0L188.4 166.0L189.4 164.0L191.3 163.0L193.5 162.7L220.5 162.5L229.5 159.3L233.5 158.6L253.5 158.3L279.5 158.6L284.6 160.0L292.0 163.0L293.1 164.0L290.4 170.0L288.5 171.9L286.5 172.6L279.5 173.2L251.5 173.6L247.5 174.4L242.5 176.8L240.1 172.0L236.5 168.8L231.5 167.4L226.8 168.0L224.5 169.9L223.7 172.0L224.0 176.0L225.4 179.0L227.5 180.9L229.5 181.9L236.9 183.0L232.4 190.0L229.5 192.4L219.5 193.2L215.5 194.6L204.8 201.0L202.6 203.0L201.5 205.0L201.7 213.0L203.5 218.6L208.7 227.0L211.5 229.8L214.5 231.6L218.5 232.1L220.5 231.4L222.2 230.0L223.7 227.0L226.5 216.5L228.5 213.9L230.5 213.1L232.5 213.5L234.5 214.7L240.5 219.1L247.5 225.2L250.5 226.0L260.5 226.8L268.5 230.5L276.5 232.8L277.7 235.0L277.1 243.0L275.0 250.0L272.5 254.1L270.5 255.4L267.5 256.1L255.5 256.4L244.5 257.5L241.5 256.1L239.5 254.1L236.1 247.0L234.2 245.0L228.5 243.9L219.5 244.0L215.5 245.5L210.0 251.0L202.5 252.9L199.5 254.4L195.4 260.0L193.5 261.6L184.5 263.5L181.5 264.9L177.5 269.9L175.5 271.1ZM297.5 207.0L289.5 206.6L287.5 205.7L285.9 204.0L284.8 201.0L284.7 195.0L285.7 192.0L287.6 190.0L290.5 189.0L298.5 188.3L302.5 187.3L308.5 183.9L315.5 182.1L323.5 177.7L327.5 176.5L341.5 176.5L344.5 177.6L346.8 180.0L348.0 183.0L349.7 191.0L349.4 192.0L348.5 192.6L341.5 193.6L316.5 193.1L312.5 193.5L310.5 194.5L308.5 196.3L303.4 205.0L301.5 206.2L297.5 207.0ZM264.5 206.1L261.5 206.4L259.5 205.6L256.5 202.0L253.6 194.0L254.5 191.0L256.5 189.6L261.5 188.7L268.5 189.0L271.2 190.0L272.9 192.0L273.1 194.0L272.3 196.0L267.5 203.8L264.5 206.1ZM366.5 252.6L350.5 252.5L346.5 251.5L345.3 250.0L344.8 247.0L345.1 243.0L345.9 241.0L347.5 239.4L350.5 238.2L366.5 237.9L366.9 244.0L366.5 252.6ZM366.5 423.4L203.5 423.1L-3.5 423.6L-4.0 423.0L-4.0 411.0L-3.5 386.4L14.5 386.5L19.5 387.2L21.5 388.7L24.4 393.0L29.5 397.7L33.5 402.7L35.5 404.0L38.5 404.8L89.5 405.1L104.5 406.2L126.5 406.1L131.5 405.1L134.1 403.0L135.6 400.0L138.5 389.2L140.0 387.0L144.3 383.0L145.3 380.0L143.7 377.0L137.4 373.0L133.5 365.8L130.5 362.9L126.5 361.9L114.7 361.0L111.4 360.0L111.1 359.0L113.8 353.0L118.2 346.0L118.9 341.0L117.7 337.0L115.5 334.1L112.5 332.2L109.5 331.7L86.5 332.6L82.5 332.0L75.5 329.8L70.5 329.6L66.5 330.5L60.3 333.0L54.5 337.3L49.5 334.8L46.5 334.6L28.5 341.5L15.5 343.4L12.5 345.4L10.7 349.0L10.7 354.0L14.3 361.0L10.4 368.0L8.5 370.0L6.5 370.6L-3.5 370.8L-4.0 287.0L-3.5 267.4L17.5 267.6L21.5 268.4L25.2 270.0L27.1 272.0L24.2 277.0L23.2 280.0L23.0 283.0L23.6 286.0L24.5 288.0L26.5 289.8L29.5 290.6L33.5 290.8L40.5 290.4L43.5 288.9L44.9 286.0L45.4 282.0L45.1 278.0L43.8 273.0L44.3 272.0L45.8 271.0L50.4 269.0L54.5 267.9L60.5 267.4L84.5 267.5L89.5 268.3L92.5 270.7L95.5 276.0L99.9 282.0L100.7 291.0L101.6 294.0L106.8 302.0L108.9 307.0L110.5 309.2L112.5 310.6L115.5 311.5L127.5 312.4L133.5 316.4L137.5 317.3L144.5 317.4L148.5 316.9L159.5 311.4L183.5 310.7L192.5 307.5L196.5 306.7L229.5 306.5L240.5 307.2L248.5 310.3L259.5 311.9L265.5 315.8L268.5 316.9L276.5 317.4L279.5 316.7L281.5 315.6L286.5 309.7L289.5 308.2L309.5 306.1L313.1 305.0L321.5 300.7L330.5 299.1L339.5 295.7L342.5 295.7L344.5 296.2L346.6 298.0L347.9 302.0L345.5 315.0L345.6 323.0L346.9 328.0L349.5 330.4L352.5 331.3L366.5 331.8L366.9 361.0L366.5 371.6L347.5 371.7L341.5 372.4L338.3 374.0L333.5 379.8L330.5 380.6L292.5 380.8L265.5 381.6L261.5 382.3L254.5 385.2L250.5 385.9L236.5 385.1L200.5 385.1L192.5 385.6L187.5 387.0L185.0 389.0L183.4 393.0L182.9 400.0L183.9 403.0L186.5 405.4L195.5 409.4L201.5 410.5L255.5 410.5L259.5 409.8L267.5 406.9L273.5 406.2L366.5 406.2L366.9 415.0L366.9 423.0L366.5 423.4ZM349.5 288.0L337.5 287.7L335.5 287.1L333.5 285.6L332.0 282.0L331.7 275.0L332.5 271.2L334.3 269.0L336.5 268.0L339.5 267.5L349.5 268.0L352.5 269.6L356.5 274.9L358.5 276.3L366.5 276.3L366.5 287.9L349.5 288.0ZM149.5 281.1L140.5 281.5L134.4 281.0L132.7 280.0L131.5 278.2L130.4 275.0L130.5 273.6L132.5 272.1L135.5 271.8L150.5 271.9L154.5 272.8L154.8 274.0L152.5 278.5L151.3 280.0L149.5 281.1ZM54.2 319.0L60.5 315.5L63.5 314.5L81.5 313.8L84.5 313.0L85.3 312.0L84.5 310.9L80.8 310.0L58.5 309.7L47.5 308.8L43.5 309.3L41.5 310.8L41.1 312.0L41.6 314.0L43.5 316.4L46.5 318.7L50.5 319.9L54.2 319.0ZM218.7 361.0L222.5 360.4L230.5 357.5L242.5 356.5L246.8 355.0L250.3 352.0L251.8 349.0L252.0 345.0L250.9 342.0L247.5 338.4L239.5 334.0L234.5 328.8L231.5 327.7L226.5 327.3L199.5 327.3L193.5 328.2L188.9 331.0L180.5 341.0L179.6 344.0L179.9 346.0L181.0 348.0L186.5 351.9L192.5 357.8L195.5 359.9L200.5 361.0L218.7 361.0ZM322.6 356.0L326.4 354.0L331.5 350.0L333.5 348.0L335.1 345.0L335.6 341.0L335.0 338.0L332.8 335.0L330.5 333.8L325.5 332.8L309.5 332.5L300.5 330.1L296.5 330.0L288.5 333.1L280.5 334.4L267.6 339.0L264.3 341.0L262.6 344.0L263.2 348.0L265.6 352.0L269.2 355.0L273.5 356.5L277.5 356.7L281.5 356.0L284.5 354.5L289.5 350.8L291.5 350.4L294.5 351.5L299.5 355.2L303.5 356.5L316.5 356.9L322.6 356.0ZM70.5 366.2L66.5 366.3L62.5 365.8L52.5 361.4L42.5 360.9L39.5 360.2L38.3 358.0L39.3 353.0L41.5 350.6L48.5 349.0L53.5 346.2L54.5 346.1L58.9 351.0L61.5 353.0L65.5 354.8L74.2 357.0L79.0 360.0L79.5 361.0L78.1 363.0L74.7 365.0L70.5 366.2ZM186.8 375.0L190.4 374.0L193.2 372.0L194.4 369.0L193.1 367.0L191.0 366.0L187.5 365.5L170.5 365.5L167.5 366.0L165.6 367.0L164.5 368.1L163.8 370.0L164.8 373.0L168.5 374.9L174.5 375.3L186.8 375.0ZM110.5 385.0L88.5 384.7L85.0 383.0L84.4 382.0L84.3 380.0L86.5 377.6L90.5 376.7L111.5 376.7L114.5 377.2L116.5 378.2L117.5 379.5L117.8 381.0L117.0 383.0L114.5 384.5L110.5 385.0Z"/><path fill="#999999" fill-rule="evenodd" d="M305.5 135.2L301.5 136.0L292.5 135.8L289.5 135.2L287.3 134.0L283.5 128.8L281.3 124.0L281.1 119.0L282.3 114.0L283.5 112.4L285.5 111.2L294.5 110.0L297.5 108.7L306.5 97.0L311.6 87.0L314.3 74.0L318.2 68.0L319.4 65.0L319.9 61.0L319.9 52.0L342.1 52.0L342.2 63.0L343.2 67.0L345.9 73.0L345.5 77.0L343.4 83.0L341.5 86.1L338.5 87.7L330.5 89.1L328.5 90.1L326.5 92.0L325.0 95.0L323.8 100.0L323.6 103.0L324.3 106.0L326.9 109.0L331.5 110.4L366.5 110.8L366.5 116.1L356.5 116.2L351.5 117.4L349.4 119.0L344.5 125.1L333.5 130.5L312.5 132.6L305.5 135.2ZM206.5 121.2L201.5 121.5L194.5 121.0L191.5 119.9L188.5 117.7L185.4 114.0L182.9 108.0L182.4 104.0L183.5 101.5L186.5 99.4L193.5 97.9L198.5 98.0L202.5 99.7L204.5 102.1L210.3 114.0L210.3 117.0L209.6 119.0L208.5 120.3L206.5 121.2ZM83.5 191.0L67.5 190.8L57.5 186.6L46.5 185.0L45.1 184.0L44.7 183.0L46.2 181.0L48.5 180.3L69.5 179.7L75.6 178.0L80.1 175.0L81.9 173.0L82.5 171.0L82.0 165.0L82.9 163.0L85.5 160.6L89.5 158.8L96.5 158.2L119.5 158.4L124.7 160.0L127.4 162.0L129.1 164.0L129.8 167.0L129.4 170.0L127.6 173.0L125.2 175.0L119.5 177.0L108.5 177.3L104.5 178.1L101.5 180.0L97.5 184.6L94.5 186.9L88.5 190.2L83.5 191.0ZM281.5 170.0L275.5 170.6L244.5 170.7L236.5 166.8L229.5 164.8L228.2 164.0L228.1 163.0L230.4 161.0L235.5 159.9L278.5 160.0L282.5 161.1L285.9 164.0L286.1 166.0L285.1 168.0L281.5 170.0ZM183.5 261.1L177.5 261.6L173.5 260.7L162.2 254.0L160.0 252.0L158.8 250.0L158.4 247.0L158.7 244.0L163.7 235.0L166.6 223.0L165.6 215.0L166.7 213.0L169.5 211.0L181.5 205.5L188.8 204.0L191.0 203.0L191.2 202.0L190.0 198.0L187.8 183.0L188.5 177.7L190.5 174.2L192.5 173.1L196.5 172.6L206.5 172.7L211.5 173.5L215.2 176.0L217.2 180.0L217.7 185.0L216.5 190.0L215.2 192.0L211.9 195.0L200.0 202.0L197.7 204.0L201.9 219.0L205.1 225.0L210.9 233.0L211.3 236.0L210.2 238.0L205.5 242.9L202.6 248.0L196.5 252.6L192.5 258.3L189.5 260.1L183.5 261.1ZM339.5 191.0L328.5 191.0L323.5 190.4L321.5 189.7L319.5 188.1L318.7 185.0L319.6 183.0L321.7 181.0L326.5 178.8L336.5 178.3L342.5 178.9L344.5 180.0L345.9 182.0L346.5 184.0L346.5 187.0L345.8 189.0L344.5 190.1L339.5 191.0ZM300.5 205.1L297.5 205.6L292.5 205.6L289.5 205.0L287.8 204.0L286.5 202.0L286.0 198.0L286.4 194.0L287.5 192.0L289.5 190.7L292.5 190.1L304.5 189.2L307.3 190.0L307.9 191.0L307.7 193.0L304.3 201.0L302.5 203.8L300.5 205.1ZM264.5 204.4L262.5 204.9L260.5 204.4L258.1 202.0L255.3 195.0L255.5 192.7L257.1 191.0L260.5 190.1L265.5 190.1L268.5 190.5L270.8 192.0L271.3 194.0L270.6 196.0L266.5 202.7L264.5 204.4ZM255.5 255.0L246.5 255.8L242.5 254.6L240.9 253.0L239.8 251.0L238.5 244.7L237.5 242.6L235.5 241.1L228.5 239.1L226.1 237.0L224.9 233.0L226.2 223.0L227.5 218.8L229.5 216.4L232.5 216.1L236.5 218.2L240.4 221.0L244.5 225.6L246.5 226.9L249.5 227.8L260.5 228.7L268.5 232.5L273.5 234.2L275.4 236.0L276.2 240.0L275.8 244.0L273.7 250.0L271.6 253.0L267.5 254.7L255.5 255.0ZM366.5 250.1L353.5 250.0L349.5 249.4L348.5 248.9L347.1 247.0L346.8 243.0L348.5 240.6L351.5 239.5L366.5 239.3L366.5 250.1ZM14.5 340.1L-3.5 340.5L-3.9 287.0L-3.5 268.7L16.5 268.9L20.5 269.7L22.5 270.9L23.6 273.0L21.6 281.0L21.8 285.0L22.7 289.0L23.7 291.0L25.5 292.6L30.5 293.5L41.5 293.3L45.5 291.8L46.8 289.0L47.5 274.0L49.0 272.0L52.5 270.0L59.5 268.8L83.5 268.8L88.5 269.4L91.0 271.0L98.0 283.0L99.8 293.0L104.1 302.0L104.5 304.0L104.0 307.0L102.5 309.3L100.5 310.7L95.1 313.0L97.9 318.0L98.6 321.0L98.1 325.0L96.3 328.0L93.5 329.7L88.5 330.6L83.5 330.2L73.5 328.0L62.5 329.4L59.5 329.1L56.9 327.0L55.9 324.0L56.9 321.0L60.5 317.6L63.5 316.4L66.5 315.9L84.5 315.3L89.3 314.0L91.5 313.0L91.8 312.0L87.5 309.4L82.5 308.3L57.5 308.0L46.5 306.8L43.5 307.0L41.5 307.7L39.8 309.0L38.8 312.0L39.9 315.0L43.7 320.0L45.3 323.0L45.3 328.0L43.4 332.0L39.3 335.0L27.5 339.1L14.5 340.1ZM366.5 286.0L341.5 286.1L336.5 285.3L334.5 283.8L333.3 281.0L333.0 276.0L333.7 272.0L335.5 270.0L338.5 269.0L345.5 268.8L349.5 269.5L351.9 271.0L355.5 276.0L357.5 277.5L358.5 277.9L366.5 277.9L366.5 286.0ZM194.5 423.0L-3.5 423.4L-4.0 423.0L-4.0 412.0L-3.5 387.7L13.5 387.8L18.5 388.6L20.5 390.0L23.6 394.0L28.5 398.4L32.5 403.4L34.5 404.8L37.5 405.7L90.5 406.1L106.5 407.6L125.5 407.5L130.5 407.0L133.5 405.7L135.5 403.6L137.0 400.0L139.3 390.0L140.7 388.0L145.5 383.6L146.8 380.0L146.4 378.0L144.9 376.0L139.5 372.9L137.7 371.0L134.5 364.0L132.5 361.5L129.5 359.9L121.5 358.3L118.4 356.0L117.7 353.0L119.8 346.0L120.1 341.0L119.4 338.0L116.4 331.0L116.0 329.0L117.5 325.5L120.5 323.1L135.5 319.3L148.5 318.3L159.5 313.4L183.5 312.7L186.5 311.9L193.5 308.4L199.5 307.6L238.5 307.9L242.1 309.0L248.5 312.3L258.5 314.0L267.5 318.2L276.5 318.8L281.5 317.2L287.2 311.0L290.5 309.3L310.5 307.1L320.5 303.3L331.5 301.8L339.5 298.0L343.5 298.3L345.5 299.9L346.2 302.0L346.2 304.0L343.9 312.0L342.9 326.0L341.3 329.0L339.5 330.4L337.5 331.0L310.5 330.6L300.5 328.5L296.5 328.4L288.5 330.4L280.5 331.0L272.5 335.3L259.5 339.8L256.5 340.2L253.5 339.6L241.9 334.0L235.5 328.1L231.5 326.6L197.5 326.4L192.5 327.3L188.5 329.5L177.2 342.0L176.3 345.0L176.3 349.0L177.1 351.0L178.4 352.0L184.5 353.8L187.5 355.6L190.7 359.0L191.8 361.0L191.7 362.0L190.5 363.1L187.5 363.7L170.5 364.1L165.5 365.2L163.3 367.0L162.1 370.0L163.0 373.0L165.5 375.1L170.5 376.3L186.5 376.3L191.5 375.3L199.5 372.3L220.5 371.6L223.1 370.0L225.0 363.0L228.3 360.0L232.5 358.6L244.5 357.6L253.5 353.4L256.5 352.7L261.5 353.1L269.5 356.9L273.5 357.9L281.5 357.6L289.5 354.1L291.5 353.7L293.5 354.1L301.5 357.6L312.5 358.3L322.5 357.6L331.5 353.6L335.5 352.7L366.5 352.5L366.5 369.1L292.6 370.0L289.4 371.0L285.5 376.1L282.5 378.0L277.5 378.8L263.5 379.3L260.5 380.3L254.5 383.9L251.5 384.7L238.5 383.8L199.5 383.7L192.5 384.4L187.5 385.7L184.5 387.8L183.2 390.0L181.8 396.0L181.7 401.0L182.8 404.0L184.5 405.9L191.7 410.0L193.7 412.0L194.8 415.0L194.5 423.0ZM69.5 365.1L64.5 365.0L59.5 363.0L56.7 360.0L56.8 357.0L58.5 355.5L61.5 355.3L71.5 357.4L74.5 358.7L75.9 360.0L76.0 362.0L75.1 363.0L72.5 364.5L69.5 365.1ZM113.5 383.0L108.5 383.5L91.5 383.5L88.4 383.0L86.8 382.0L86.3 381.0L87.5 379.1L90.5 378.3L110.5 378.2L113.5 378.7L115.4 380.0L115.2 382.0L113.5 383.0ZM366.5 423.3L261.2 423.0L261.2 415.0L262.3 412.0L264.4 410.0L267.5 408.5L271.5 407.7L366.5 407.6L366.5 423.3Z"/><path fill="#b2b2b2" fill-rule="evenodd" d="M302.5 134.1L292.5 134.3L289.5 133.6L287.5 132.2L284.5 128.1L282.4 124.0L282.1 120.0L283.5 115.0L284.5 113.7L286.5 112.5L295.5 111.4L298.8 110.0L307.9 98.0L312.5 88.6L315.5 75.0L319.6 69.0L320.9 66.0L321.5 62.0L321.5 52.0L340.5 52.0L340.9 65.0L344.3 74.0L342.5 82.0L341.5 84.2L339.5 86.1L329.5 88.2L325.6 91.0L323.7 94.0L322.7 97.0L321.9 102.0L322.1 105.0L322.8 107.0L324.5 109.4L328.5 111.5L347.5 112.4L351.4 113.0L352.6 114.0L348.5 117.2L344.4 123.0L341.0 125.0L333.5 127.6L310.5 130.6L302.5 134.1ZM203.5 118.1L193.5 117.8L190.5 116.7L188.5 115.3L186.0 112.0L183.9 107.0L183.7 104.0L184.7 102.0L188.5 100.0L194.5 99.2L198.5 99.4L202.0 101.0L204.1 104.0L208.1 114.0L207.8 116.0L206.9 117.0L203.5 118.1ZM89.5 187.0L83.5 187.9L67.5 187.6L64.5 186.9L54.8 183.0L60.6 182.0L72.5 181.2L82.5 177.2L84.5 175.2L85.3 173.0L85.0 164.0L86.5 161.7L89.6 160.0L95.5 159.3L118.5 159.4L122.5 160.4L125.8 163.0L126.9 166.0L126.9 169.0L126.0 172.0L124.1 174.0L119.5 175.8L107.5 176.3L103.5 177.2L100.6 179.0L95.5 184.2L89.5 187.0ZM277.5 167.1L245.5 167.3L240.3 166.0L236.2 164.0L235.3 163.0L237.2 162.0L242.5 161.6L276.5 161.7L279.5 162.4L281.3 164.0L280.4 166.0L277.5 167.1ZM201.5 199.1L198.5 199.8L195.5 199.7L193.5 198.9L191.5 196.5L189.0 183.0L189.8 179.0L192.5 176.3L198.5 175.5L208.5 176.0L212.2 178.0L214.1 181.0L214.5 186.0L212.6 192.0L208.5 195.7L201.5 199.1ZM342.5 187.0L338.5 187.8L327.5 187.6L323.9 186.0L323.2 184.0L324.6 182.0L327.5 180.9L340.5 180.8L342.5 181.5L343.9 183.0L344.1 185.0L342.5 187.0ZM264.5 202.2L262.5 202.9L261.5 202.7L259.5 200.9L257.3 195.0L257.5 193.6L258.5 192.5L260.5 191.8L264.5 191.7L266.8 192.0L268.6 193.0L268.9 194.0L268.4 196.0L264.5 202.2ZM297.5 204.0L291.5 203.9L288.5 202.0L287.8 200.0L287.7 196.0L288.3 194.0L289.5 192.7L292.5 191.7L299.5 191.5L302.5 191.8L304.1 193.0L304.3 195.0L302.4 201.0L300.5 203.1L297.5 204.0ZM187.5 258.1L183.5 258.8L176.5 258.9L172.5 258.1L168.5 256.4L164.5 254.0L162.4 252.0L161.1 249.0L161.1 245.0L161.8 242.0L164.7 236.0L167.3 229.0L170.7 223.0L170.9 221.0L169.6 215.0L170.6 213.0L174.3 211.0L181.5 208.4L185.5 207.9L192.5 207.9L195.5 208.6L197.5 210.7L200.7 221.0L206.7 231.0L207.4 234.0L200.1 246.0L194.5 250.8L190.5 256.3L187.5 258.1ZM267.5 253.2L247.5 254.0L243.5 252.9L241.6 250.0L240.8 243.0L239.5 239.7L237.5 238.0L231.4 236.0L228.7 233.0L227.9 230.0L227.8 225.0L228.3 222.0L229.5 220.0L230.5 219.3L232.5 219.0L236.5 220.5L239.5 222.7L242.9 227.0L245.5 228.9L248.5 229.7L260.5 230.7L273.4 237.0L274.5 238.9L274.9 241.0L274.0 246.0L271.5 251.0L269.5 252.6L267.5 253.2ZM366.5 246.9L352.5 246.6L350.7 246.0L349.6 245.0L349.5 243.0L350.5 241.9L353.5 241.2L366.5 241.0L366.5 246.9ZM27.5 336.2L21.5 336.6L-3.5 336.7L-3.5 270.2L14.5 270.3L18.5 271.0L20.3 272.0L21.1 274.0L20.1 284.0L21.5 292.4L22.5 294.3L24.5 295.9L30.5 296.8L43.5 296.5L46.5 295.5L48.4 294.0L49.7 292.0L50.0 290.0L48.9 282.0L49.4 277.0L51.5 273.0L54.5 271.2L60.5 270.3L83.5 270.2L87.5 270.7L89.8 272.0L91.5 274.2L95.5 282.0L97.9 292.0L101.6 301.0L101.8 304.0L100.5 306.4L97.5 308.3L94.5 308.8L82.5 306.8L56.5 306.5L45.5 304.8L40.5 305.6L37.6 308.0L36.6 311.0L37.4 314.0L42.2 322.0L42.5 325.0L41.6 329.0L39.7 332.0L37.5 333.4L27.5 336.2ZM351.5 284.0L340.5 284.0L336.5 282.8L335.2 281.0L334.7 279.0L334.7 275.0L335.5 272.5L337.4 271.0L339.5 270.5L347.5 270.7L350.5 272.1L354.5 277.7L357.5 279.8L366.5 280.1L366.5 283.6L351.5 284.0ZM190.5 423.0L-3.5 423.4L-3.8 412.0L-3.5 389.2L12.5 389.2L17.5 389.9L19.5 391.3L22.8 395.0L27.5 399.2L32.5 405.0L34.5 406.1L37.5 406.9L90.5 407.2L106.5 409.1L125.5 409.1L131.5 408.5L134.5 407.2L136.7 405.0L138.4 401.0L140.2 391.0L141.5 388.8L147.0 384.0L148.1 382.0L148.5 379.0L147.9 377.0L146.5 375.0L140.5 371.4L139.1 370.0L135.8 362.0L133.5 358.7L130.5 356.9L123.5 355.1L121.4 353.0L120.9 351.0L121.2 341.0L119.0 331.0L119.9 328.0L122.5 325.8L130.6 324.0L137.5 321.0L149.5 319.5L159.5 315.3L184.5 314.5L187.5 313.5L193.5 309.7L199.5 308.6L237.5 308.9L241.5 310.1L247.5 314.0L256.9 316.0L265.5 319.5L271.5 320.4L277.5 320.3L280.5 319.5L282.5 318.3L287.5 312.7L290.5 310.9L310.5 308.2L320.5 305.3L331.5 304.4L340.5 300.4L342.5 300.6L343.5 301.4L344.1 304.0L342.0 311.0L341.5 321.0L340.8 324.0L338.5 327.1L334.5 328.6L310.5 328.6L298.5 326.8L287.5 328.3L280.5 327.7L277.5 328.6L273.5 332.1L270.5 333.7L260.5 336.2L256.5 336.5L252.5 336.0L243.5 333.0L241.5 331.9L236.1 327.0L231.5 325.5L196.5 325.3L191.5 326.3L187.5 328.4L181.5 335.1L175.1 341.0L173.8 344.0L172.8 350.0L173.0 352.0L174.5 354.4L177.5 355.9L183.5 356.8L185.5 357.6L187.1 359.0L187.5 360.0L187.1 361.0L183.9 362.0L168.5 362.6L163.5 364.3L161.1 367.0L160.3 370.0L161.2 373.0L164.5 376.0L169.5 377.3L185.5 377.5L199.5 376.0L222.5 375.5L225.5 374.0L227.0 372.0L228.3 364.0L229.4 362.0L230.8 361.0L234.5 359.9L244.5 359.2L255.5 356.4L261.5 356.5L270.5 359.0L276.5 359.6L281.5 359.3L291.5 356.8L301.5 359.5L307.5 360.0L321.5 359.7L330.5 356.9L335.5 356.3L366.5 356.3L366.6 358.0L366.5 365.9L296.5 366.0L289.5 366.4L286.3 368.0L282.5 373.0L279.7 375.0L276.5 375.7L262.5 376.3L259.5 377.9L255.3 382.0L251.5 383.4L238.5 382.3L201.5 381.9L194.5 382.4L187.5 384.3L184.5 386.1L182.4 389.0L181.0 394.0L180.1 401.0L180.8 404.0L182.0 406.0L189.2 411.0L190.5 412.9L190.9 415.0L190.9 423.0L190.5 423.0ZM90.5 328.0L84.5 328.4L73.5 326.6L62.7 327.0L59.8 325.0L59.4 322.0L61.7 319.0L65.5 317.6L91.5 316.6L93.5 317.7L94.5 319.0L95.2 322.0L94.9 324.0L93.7 326.0L90.5 328.0ZM68.5 364.0L65.5 363.9L62.5 363.0L60.2 361.0L60.1 359.0L61.5 357.7L64.5 357.4L70.5 358.5L73.2 360.0L73.7 361.0L72.5 362.8L68.5 364.0ZM366.5 423.2L265.1 423.0L265.1 415.0L265.5 413.0L266.9 411.0L269.5 409.7L273.5 409.2L366.5 409.1L366.5 423.2Z"/><path fill="#cccccc" fill-rule="evenodd" d="M301.5 132.2L292.5 132.5L290.5 132.0L288.5 130.7L285.5 127.0L283.5 123.0L283.5 120.0L284.4 117.0L285.5 115.4L287.5 114.2L296.5 113.2L300.5 111.9L302.7 110.0L305.5 105.2L310.0 100.0L313.9 91.0L315.3 81.0L316.5 77.2L317.8 75.0L321.5 71.0L323.1 68.0L324.1 63.0L324.2 52.0L337.8 52.0L338.2 65.0L338.9 68.0L341.8 75.0L341.0 82.0L339.9 84.0L338.5 85.1L329.5 86.8L326.8 88.0L324.3 90.0L321.9 93.0L320.4 96.0L319.3 101.0L319.2 104.0L320.6 109.0L322.1 111.0L324.5 112.7L329.5 114.2L343.5 114.9L344.7 116.0L344.3 118.0L342.5 121.0L338.6 123.0L327.5 124.5L318.5 127.3L309.5 128.6L301.5 132.2ZM202.5 114.4L194.5 114.8L191.5 114.2L189.5 113.2L187.5 111.2L185.5 107.5L185.0 105.0L185.5 103.4L187.5 101.8L191.5 100.8L197.5 100.7L200.5 101.7L202.6 104.0L204.2 111.0L204.2 113.0L202.5 114.4ZM92.5 183.2L86.5 183.5L84.4 183.0L84.2 182.0L86.5 179.0L87.2 177.0L87.7 173.0L86.9 165.0L87.7 163.0L88.7 162.0L90.9 161.0L94.5 160.5L116.5 160.5L121.5 161.5L124.3 164.0L124.9 167.0L124.7 170.0L123.8 172.0L122.5 173.2L118.5 174.6L107.5 175.0L103.5 175.7L100.5 177.2L95.5 181.7L92.5 183.2ZM201.5 197.2L198.5 197.6L195.5 197.3L193.5 196.0L192.5 194.6L190.6 187.0L190.3 183.0L191.4 180.0L193.5 178.4L197.5 177.8L206.5 178.1L209.5 179.1L212.0 182.0L212.1 187.0L210.4 192.0L207.0 195.0L201.5 197.2ZM298.5 201.1L294.5 201.7L291.5 200.9L290.7 200.0L290.3 198.0L291.3 195.0L293.5 194.0L295.5 193.9L298.5 194.1L300.2 195.0L300.5 198.0L299.7 200.0L298.5 201.1ZM262.5 198.3L261.5 197.5L261.1 196.0L261.5 195.0L263.5 194.8L264.4 196.0L263.5 197.8L262.5 198.3ZM186.5 256.1L182.5 256.8L175.5 256.7L171.5 256.0L167.5 254.3L164.5 252.0L163.5 250.1L163.2 244.0L164.1 241.0L168.5 231.6L174.4 223.0L174.9 220.0L174.1 216.0L175.1 214.0L177.1 213.0L181.5 211.9L191.5 211.8L193.5 212.2L195.5 214.0L197.7 221.0L203.2 230.0L204.0 233.0L198.5 244.2L193.1 249.0L189.5 254.0L186.5 256.1ZM267.5 251.3L249.5 251.9L245.4 251.0L243.7 248.0L242.7 240.0L241.5 236.2L239.5 234.3L234.5 232.9L232.5 231.4L231.0 227.0L231.5 223.6L233.5 222.8L236.5 223.9L241.0 230.0L243.5 231.5L259.5 232.7L271.5 238.2L273.4 241.0L272.9 245.0L270.5 249.4L267.5 251.3ZM27.5 333.0L-3.5 333.2L-3.5 271.9L11.5 272.0L16.8 273.0L18.3 275.0L19.1 292.0L20.6 298.0L22.5 299.7L24.5 300.4L33.9 301.0L37.0 302.0L36.9 303.0L33.9 308.0L33.7 311.0L34.9 314.0L39.7 321.0L40.2 324.0L39.6 327.0L38.5 329.2L36.5 331.1L33.5 332.2L27.5 333.0ZM96.5 306.1L93.5 306.6L82.5 305.3L56.5 305.0L51.4 304.0L47.1 302.0L46.4 301.0L46.8 300.0L51.5 295.0L53.7 291.0L53.7 289.0L51.9 281.0L52.6 278.0L54.1 275.0L56.7 273.0L63.5 272.0L83.5 272.0L86.5 272.4L88.5 273.4L90.5 275.8L92.7 280.0L93.7 283.0L94.8 290.0L99.7 301.0L99.2 304.0L96.5 306.1ZM349.5 281.0L343.5 281.3L339.5 280.8L337.6 279.0L337.5 275.0L338.5 273.6L340.5 272.9L344.5 272.7L347.5 273.4L349.3 275.0L351.2 279.0L351.2 280.0L349.5 281.0ZM334.5 326.3L329.5 326.7L311.5 326.7L298.5 325.3L287.5 326.1L283.1 325.0L281.2 324.0L280.6 323.0L288.5 314.2L291.5 312.6L299.5 311.6L319.5 307.4L330.5 306.8L338.5 305.5L339.5 306.5L339.7 308.0L339.6 321.0L338.9 323.0L337.5 324.8L334.5 326.3ZM186.5 423.0L-3.5 423.2L-3.5 390.9L12.5 391.0L16.5 391.6L18.5 392.8L26.4 400.0L31.5 406.0L36.5 407.9L90.5 408.4L95.4 409.0L103.5 411.1L107.5 411.4L127.5 411.4L133.5 410.6L136.9 409.0L139.4 406.0L140.7 402.0L140.9 394.0L141.5 391.3L143.2 389.0L149.0 384.0L150.6 381.0L150.9 378.0L150.0 375.0L148.5 373.0L141.5 368.5L138.3 359.0L136.5 356.0L133.5 354.0L125.5 352.0L123.7 350.0L121.0 332.0L121.5 330.0L123.5 328.0L132.5 325.8L139.5 322.6L149.5 321.2L159.5 317.3L185.5 316.5L188.5 315.2L193.8 311.0L196.5 310.1L200.5 309.8L237.5 310.1L240.5 311.2L247.5 316.2L255.2 318.0L263.5 321.6L271.5 323.0L274.0 324.0L274.1 325.0L271.6 329.0L268.9 331.0L264.5 332.1L255.5 333.0L250.5 332.6L244.5 331.3L242.0 330.0L237.2 326.0L232.5 324.4L202.5 324.0L193.5 324.5L189.5 325.5L186.5 327.1L180.3 334.0L173.9 339.0L172.2 342.0L169.1 352.0L169.3 354.0L171.0 358.0L170.8 359.0L163.5 361.3L160.5 363.1L158.0 367.0L157.8 371.0L160.3 375.0L162.5 376.6L165.5 377.9L169.5 378.5L186.2 379.0L190.7 380.0L190.5 381.0L184.5 384.3L182.0 387.0L180.7 390.0L177.7 401.0L177.9 404.0L179.2 407.0L186.5 413.3L187.0 415.0L187.0 423.0L186.5 423.0ZM88.5 326.2L84.5 326.4L74.5 325.1L64.5 325.1L62.6 324.0L62.1 322.0L63.7 320.0L67.1 319.0L89.5 318.5L92.0 320.0L92.6 322.0L91.5 324.6L88.5 326.2ZM68.5 362.2L64.9 362.0L63.5 361.0L63.6 360.0L65.5 359.4L69.4 360.0L70.3 361.0L69.5 362.0L68.5 362.2ZM250.5 382.1L241.5 380.3L232.5 379.7L229.5 378.9L228.9 378.0L231.4 372.0L232.1 365.0L233.5 363.0L236.5 362.1L257.5 360.0L262.5 360.2L271.5 361.7L281.5 362.2L283.7 363.0L280.4 369.0L278.3 371.0L274.5 371.9L260.5 372.7L257.5 374.8L254.5 380.3L252.5 381.6L250.5 382.1ZM366.5 423.1L269.0 423.0L269.0 415.0L269.9 413.0L271.4 412.0L275.5 411.5L366.5 411.4L366.5 423.1Z"/><path fill="#e6e6e6" fill-rule="evenodd" d="M321.5 89.2L318.5 89.9L317.5 89.1L316.7 87.0L317.0 82.0L317.7 80.0L319.5 77.7L323.5 76.3L333.5 76.2L336.5 76.7L338.5 78.5L339.0 81.0L337.5 83.4L327.5 85.7L321.5 89.2ZM199.5 110.0L195.5 110.8L190.5 110.0L187.5 107.0L187.5 104.2L189.3 103.0L191.5 102.6L195.5 102.4L198.9 103.0L200.2 104.0L201.1 106.0L200.9 108.0L199.5 110.0ZM301.5 129.1L294.5 129.9L291.5 129.4L289.5 128.4L286.5 125.4L285.3 123.0L285.5 120.0L286.5 118.3L288.2 117.0L290.5 116.5L311.5 115.6L317.5 116.3L319.5 117.2L321.4 119.0L322.0 121.0L321.7 122.0L319.5 124.2L316.5 125.3L307.5 126.7L301.5 129.1ZM95.5 178.1L92.5 178.5L90.8 176.0L89.1 166.0L89.6 164.0L90.5 163.0L95.5 161.8L116.5 161.9L120.5 162.8L122.4 165.0L122.5 170.0L120.5 172.4L117.5 173.3L103.5 174.1L100.5 175.1L95.5 178.1ZM202.5 195.0L199.5 195.5L196.5 195.2L193.8 193.0L191.9 185.0L192.2 183.0L193.5 181.1L196.5 180.2L204.5 180.2L207.5 180.8L209.5 182.6L210.1 186.0L208.7 191.0L206.5 193.4L202.5 195.0ZM185.5 254.0L181.5 254.7L175.5 254.6L171.5 254.0L168.5 252.9L166.2 251.0L165.4 249.0L165.2 245.0L165.8 242.0L171.5 231.8L174.5 228.3L177.5 226.1L179.5 225.3L183.5 224.8L190.5 224.9L194.5 225.5L197.5 227.4L199.6 230.0L200.4 232.0L200.0 235.0L196.6 243.0L191.5 247.3L187.5 252.8L185.5 254.0ZM261.5 249.0L251.5 249.0L247.5 247.7L246.3 246.0L245.5 242.3L245.8 239.0L246.7 237.0L248.0 236.0L250.5 235.4L257.5 235.4L260.5 236.2L270.5 240.5L271.5 243.0L269.5 246.9L266.5 248.6L261.5 249.0ZM12.5 299.2L-3.5 299.6L-3.5 274.7L10.5 275.0L13.3 276.0L14.5 277.2L16.1 283.0L16.6 293.0L15.5 297.0L14.5 298.2L12.5 299.2ZM87.5 289.2L83.5 289.7L70.5 289.7L63.5 288.9L60.6 287.0L59.1 285.0L58.2 282.0L58.8 279.0L61.3 276.0L64.5 275.0L79.5 274.7L85.5 275.1L88.5 277.0L90.5 280.0L91.1 282.0L91.2 284.0L90.5 286.6L89.5 288.0L87.5 289.2ZM94.5 304.2L81.5 303.5L57.5 303.3L53.1 302.0L52.2 301.0L52.1 300.0L53.2 298.0L55.5 295.9L57.5 294.7L60.5 293.9L88.5 293.6L93.5 295.2L96.5 298.6L97.2 302.0L96.5 303.1L94.5 304.2ZM333.5 324.2L313.5 324.6L298.5 323.5L289.5 323.9L286.5 323.0L285.8 322.0L286.4 320.0L288.5 317.6L292.5 315.2L298.5 314.2L306.5 311.6L318.5 309.5L333.5 309.0L335.5 309.3L337.1 311.0L337.8 316.0L337.6 320.0L336.8 322.0L335.5 323.3L333.5 324.2ZM162.5 349.1L139.5 349.2L130.5 348.9L127.5 348.2L125.5 346.2L124.5 343.3L123.1 335.0L123.3 332.0L124.5 330.3L126.5 329.4L133.5 328.0L140.5 325.3L148.5 324.1L158.5 319.6L162.5 319.1L186.5 318.7L189.5 317.4L194.5 312.5L199.5 311.2L236.5 311.4L240.2 313.0L245.5 317.9L253.5 320.2L255.0 321.0L256.8 323.0L256.9 325.0L255.5 327.1L253.5 328.2L249.5 328.9L244.5 328.2L237.5 324.2L231.5 322.8L197.5 322.7L189.5 323.5L184.5 325.9L179.5 332.2L172.5 337.0L167.5 346.5L165.5 348.2L162.5 349.1ZM29.5 329.1L-3.5 329.1L-3.5 314.1L26.5 314.2L31.5 315.3L36.5 319.7L37.6 322.0L37.7 324.0L36.5 326.5L34.8 328.0L29.5 329.1ZM87.5 323.5L83.5 323.9L75.5 322.3L68.9 322.0L86.5 320.8L87.8 321.0L88.8 322.0L88.5 323.0L87.5 323.5ZM251.5 379.2L249.5 379.7L247.7 379.0L246.9 378.0L247.5 376.1L249.5 375.0L251.5 375.6L252.3 378.0L251.5 379.2ZM172.5 398.2L147.5 398.2L144.5 397.0L143.5 395.6L143.1 393.0L144.5 390.2L151.2 385.0L155.6 379.0L157.5 377.6L166.5 379.6L178.5 380.1L183.0 381.0L183.5 382.0L180.2 387.0L177.0 395.0L175.5 396.9L172.5 398.2ZM98.5 423.0L-3.5 423.1L-3.5 393.7L11.5 393.7L15.5 394.2L18.5 395.9L23.8 400.0L30.0 407.0L32.5 408.5L35.5 409.3L88.5 409.7L94.5 410.5L97.6 412.0L99.2 414.0L99.5 423.0L98.5 423.0Z"/><path fill="#ffffff" fill-rule="evenodd" d="M301.5 124.1L293.5 124.6L291.2 124.0L290.3 123.0L290.7 122.0L293.5 121.5L304.2 122.0L304.1 123.0L301.5 124.1ZM97.5 173.2L94.6 173.0L93.2 171.0L92.5 166.0L93.1 165.0L94.5 164.3L98.5 163.9L115.4 164.0L118.5 164.9L119.5 166.4L119.4 169.0L118.5 170.2L116.7 171.0L104.5 171.6L97.5 173.2ZM202.5 192.3L198.5 192.5L195.9 191.0L194.7 187.0L194.8 185.0L195.5 183.9L197.5 183.1L200.5 183.0L203.5 183.1L205.8 184.0L206.8 186.0L206.3 189.0L205.0 191.0L202.5 192.3ZM183.5 251.4L176.5 251.9L170.5 250.9L169.3 250.0L168.3 248.0L168.3 245.0L169.1 242.0L175.5 233.1L178.5 231.0L186.5 230.3L193.7 231.0L195.1 232.0L196.0 234.0L194.7 240.0L189.0 245.0L185.5 250.2L183.5 251.4ZM262.5 243.3L253.5 243.6L251.5 243.0L251.0 242.0L252.5 240.8L257.5 240.6L262.8 242.0L263.4 243.0L262.5 243.3ZM11.5 293.0L7.5 293.8L-3.5 293.9L-3.5 279.5L6.5 279.6L10.6 281.0L12.4 284.0L13.1 288.0L13.0 291.0L11.5 293.0ZM83.5 283.2L69.5 283.2L66.4 282.0L66.5 281.0L69.4 280.0L82.5 280.0L85.5 281.1L85.5 282.3L83.5 283.2ZM332.5 321.2L327.5 321.8L308.5 321.6L303.5 320.8L301.7 320.0L301.5 319.0L305.4 315.0L308.5 313.6L319.5 312.1L330.5 312.0L333.5 312.9L334.6 315.0L334.5 319.0L332.5 321.2ZM241.5 322.0L230.5 320.6L197.5 320.4L194.8 320.0L193.9 319.0L195.9 315.0L197.3 314.0L199.5 313.4L233.5 313.3L236.5 313.9L238.1 315.0L242.4 321.0L242.3 322.0L241.5 322.0ZM31.5 323.0L27.5 323.5L-3.5 323.5L-3.5 320.1L28.5 320.2L31.4 321.0L32.2 322.0L31.5 323.0ZM163.5 343.3L155.5 343.8L133.5 343.8L129.5 343.4L127.6 342.0L126.7 340.0L126.2 334.0L126.8 333.0L128.7 332.0L150.5 328.5L157.5 323.0L160.5 322.1L176.5 322.0L180.6 323.0L180.4 325.0L177.5 330.0L170.5 334.3L169.0 336.0L166.5 341.0L165.5 342.2L163.5 343.3ZM173.5 392.4L169.5 392.9L156.5 392.7L150.8 392.0L150.4 391.0L156.5 386.5L160.7 382.0L163.5 381.7L173.5 382.1L177.5 382.9L178.1 384.0L176.5 389.2L175.5 391.0L173.5 392.4ZM93.5 423.0L-3.5 423.1L-3.5 398.4L12.5 398.5L16.5 399.0L21.8 402.0L25.6 407.0L27.9 409.0L30.5 410.4L34.5 411.4L90.5 412.1L92.8 413.0L94.1 415.0L94.1 423.0L93.5 423.0Z"/></g></g>
<g clip-path="url(#cp2)"><g filter="url(#soft)"><rect x="372" y="41" width="385" height="385" fill="#fff"/><path fill="#000" fill-rule="evenodd" d="M454.5 121.8L448.5 122.3L374.5 122.3L374.5 112.1L416.5 111.8L420.5 110.6L423.5 108.8L425.2 106.5L425.4 104.5L424.1 98.5L422.1 95.5L417.5 92.9L412.5 91.8L400.5 92.3L395.5 94.3L389.5 98.8L385.5 100.8L382.5 101.6L374.5 101.6L374.4 43.5L394.0 43.5L394.0 52.5L394.5 55.5L396.5 58.0L400.5 60.2L405.5 61.2L427.5 61.4L431.8 62.5L435.2 64.5L435.9 65.5L435.8 67.5L433.3 69.5L429.5 70.9L422.5 72.2L418.0 74.5L417.1 75.5L417.1 77.5L420.5 80.1L426.5 81.5L454.5 81.8L459.5 83.1L463.3 85.5L464.7 87.5L465.2 89.5L467.4 104.5L467.4 107.5L464.8 113.5L462.3 117.5L459.5 119.8L454.5 121.8ZM503.5 70.7L498.5 71.4L484.5 71.3L480.5 70.3L476.5 68.3L472.6 64.5L466.8 56.5L466.1 53.5L466.0 43.5L516.0 43.5L515.9 54.5L514.8 58.5L510.5 66.5L507.5 68.9L503.5 70.7ZM636.5 423.5L543.0 423.5L543.1 414.5L544.2 411.5L554.5 402.0L560.6 391.5L565.5 388.1L568.5 387.1L572.5 386.6L630.5 386.5L634.5 385.5L637.5 383.9L638.9 382.5L639.0 380.5L637.1 378.5L625.7 369.5L619.5 366.8L615.5 366.3L579.5 366.0L574.5 364.3L566.5 358.6L561.5 356.6L557.5 356.1L525.5 355.8L519.5 353.6L511.5 347.9L506.5 346.5L501.5 348.0L498.7 350.5L498.5 351.5L499.2 353.5L503.4 359.5L503.9 361.5L503.5 363.5L500.4 369.5L500.4 371.5L501.0 372.5L503.6 374.5L508.5 376.1L525.5 376.6L531.7 378.5L534.6 380.5L536.9 383.5L539.7 389.5L539.5 392.1L537.0 394.5L531.5 396.5L508.5 396.8L502.0 398.5L498.8 400.5L497.1 402.5L494.0 409.5L493.1 413.5L493.0 423.5L470.0 423.5L470.0 403.5L471.6 390.5L469.8 381.5L466.3 371.5L465.8 361.5L463.6 351.5L467.5 340.5L466.5 333.5L464.4 329.5L450.5 318.6L445.5 316.2L440.5 315.5L436.5 315.9L433.5 317.0L430.8 318.5L429.0 320.5L428.6 322.5L429.5 330.5L426.4 341.5L427.7 350.5L426.7 360.5L428.4 363.5L435.5 371.5L437.2 377.5L437.0 381.5L434.5 384.0L430.5 385.8L420.5 386.9L417.5 387.7L414.2 389.5L412.9 391.5L413.0 392.5L414.5 394.1L425.5 399.9L438.0 410.5L439.4 412.5L439.9 414.5L440.0 423.5L374.4 423.5L374.5 406.9L382.5 406.9L386.5 406.2L390.5 404.2L392.0 402.5L392.1 401.5L390.5 399.5L385.5 397.3L374.5 396.9L374.5 366.2L383.5 366.1L389.1 364.5L392.9 361.5L393.8 359.5L394.0 356.5L393.4 351.5L391.9 349.5L389.5 347.9L383.5 346.1L374.5 346.0L374.5 305.3L413.5 305.1L419.0 303.5L420.6 302.5L422.1 300.5L421.5 298.7L420.1 297.5L416.5 295.9L413.5 295.3L374.5 295.1L374.5 274.8L427.5 274.8L433.5 275.9L438.5 278.6L454.5 292.6L459.5 294.6L468.5 295.9L473.5 298.3L476.0 301.5L477.8 308.5L478.8 310.5L481.5 312.9L486.5 314.9L491.5 315.4L535.5 315.4L543.5 313.5L545.6 311.5L545.2 309.5L544.3 308.5L540.5 306.4L536.5 305.4L524.5 304.8L520.9 303.5L517.9 301.5L516.2 298.5L516.0 292.5L519.0 280.5L517.9 278.5L516.7 277.5L512.3 275.5L507.5 274.8L460.5 274.5L454.9 272.5L446.3 266.5L442.5 265.1L439.5 264.7L374.5 264.6L374.5 224.0L400.5 223.8L405.4 222.5L408.9 220.5L411.4 217.5L420.6 197.5L432.1 178.5L434.5 176.2L443.8 170.5L449.5 166.1L459.2 160.5L460.5 159.3L461.1 157.5L459.6 155.5L457.9 154.5L452.5 152.9L420.5 153.1L414.1 155.5L395.2 169.5L391.8 171.5L386.5 173.0L374.5 173.1L374.5 142.6L422.5 142.3L428.5 140.1L434.6 135.5L437.5 133.9L440.5 132.9L444.5 132.5L461.5 132.5L465.5 132.9L470.5 134.9L478.2 140.5L483.5 142.3L488.5 142.1L494.5 140.2L495.8 138.5L495.7 136.5L490.9 129.5L489.9 126.5L492.5 117.5L491.1 106.5L491.0 100.5L491.3 95.5L492.8 88.5L494.7 85.5L499.5 82.7L503.5 81.8L515.5 81.1L519.7 79.5L522.4 77.5L523.8 74.5L524.5 65.5L527.8 55.5L528.0 43.5L593.0 43.5L593.4 65.5L595.2 68.5L600.7 74.5L601.4 76.5L601.1 77.5L599.5 79.0L589.8 83.5L587.5 85.2L586.9 86.5L587.8 88.5L590.5 90.2L594.5 91.5L598.5 91.8L604.5 91.0L609.6 88.5L614.5 83.5L620.3 75.5L623.1 68.5L623.6 65.5L622.1 55.5L622.0 43.5L662.0 43.5L662.0 64.5L663.4 75.5L662.1 78.5L655.8 86.5L655.1 89.5L655.0 93.5L656.2 97.5L663.9 105.5L664.7 107.5L664.5 108.5L663.7 109.5L661.7 110.5L655.5 112.0L634.5 112.1L630.5 112.6L627.5 113.6L624.5 115.5L623.7 116.5L623.3 118.5L624.5 120.5L631.5 127.7L634.5 129.9L638.0 131.5L643.5 132.4L665.9 132.5L665.8 137.5L664.3 148.5L665.6 155.5L667.2 158.5L670.5 161.0L675.5 162.7L687.5 162.9L692.5 162.5L696.5 161.0L699.5 159.1L710.7 148.5L711.9 145.5L712.0 141.5L711.6 138.5L710.4 136.5L706.5 133.9L701.5 132.6L666.5 132.4L666.0 131.5L666.8 125.5L670.5 116.1L678.3 106.5L684.2 97.5L684.9 94.5L685.2 88.5L686.2 85.5L694.3 75.5L705.1 68.5L709.7 64.5L716.5 61.8L725.5 60.5L731.1 57.5L732.5 55.5L732.9 53.5L733.0 43.5L754.5 43.4L754.5 81.6L738.5 81.7L732.5 83.1L726.5 87.2L719.7 93.5L717.8 96.5L718.5 98.4L719.8 99.5L725.5 101.7L754.5 102.0L754.5 112.1L736.0 112.5L730.8 114.5L729.5 115.5L728.5 117.5L729.7 120.5L733.5 125.4L738.5 129.9L744.5 132.1L754.5 132.4L754.5 183.3L725.5 183.6L719.5 185.8L715.1 189.5L708.3 198.5L704.7 207.5L704.9 210.5L707.6 218.5L708.0 222.5L707.7 230.5L705.5 239.5L699.5 248.6L695.5 252.0L689.5 254.1L678.5 254.9L674.5 256.5L672.5 258.0L671.7 259.5L672.5 261.5L679.0 268.5L679.0 270.5L676.9 272.5L673.5 274.0L669.5 274.7L643.5 274.8L635.4 273.5L633.5 272.8L632.0 271.5L631.4 269.5L631.8 265.5L633.0 260.5L634.5 258.1L647.5 247.4L651.5 245.4L661.0 242.5L663.8 240.5L664.5 238.5L662.3 234.5L656.1 227.5L644.6 221.5L638.5 216.9L635.5 215.3L629.5 213.8L610.5 213.9L603.0 215.5L601.2 216.5L600.5 217.5L600.4 218.5L601.4 220.5L610.5 227.8L613.9 231.5L620.1 239.5L624.6 247.5L624.8 249.5L623.3 251.5L619.0 253.5L614.5 254.4L604.5 254.4L600.0 253.5L595.8 251.5L589.0 246.5L577.5 241.8L563.4 230.5L557.0 221.5L556.4 219.5L557.2 217.5L559.5 215.8L562.5 214.6L567.5 213.8L584.5 213.6L590.5 212.2L593.6 210.5L594.5 207.5L593.1 197.5L593.3 187.5L595.0 179.5L597.5 176.3L601.5 174.2L605.5 173.3L624.5 173.1L628.5 172.6L634.5 169.8L635.8 168.5L636.7 166.5L636.8 159.5L635.9 157.5L634.5 156.0L629.3 153.5L621.5 152.5L617.5 151.3L614.4 149.5L612.0 146.5L610.6 140.5L610.8 137.5L616.6 128.5L616.9 126.5L616.4 125.5L612.5 123.5L601.5 121.8L596.1 119.5L592.8 116.5L586.0 106.5L583.5 104.6L581.5 103.8L579.5 103.8L577.5 104.6L576.4 105.5L575.3 107.5L575.7 109.5L579.0 115.5L579.8 118.5L579.9 126.5L578.7 136.5L579.6 138.5L581.5 140.0L592.4 144.5L596.3 147.5L598.1 150.5L599.9 155.5L599.9 157.5L598.6 159.5L595.3 161.5L590.5 162.8L564.5 162.7L558.5 160.5L538.5 145.7L533.5 143.4L528.5 142.6L513.5 142.6L509.5 143.1L504.6 144.5L502.4 146.5L502.8 148.5L504.9 150.5L512.9 155.5L515.2 157.5L517.0 160.5L519.5 167.5L519.3 171.5L516.1 189.5L516.3 198.5L519.1 206.5L519.6 209.5L518.4 216.5L516.8 219.5L512.4 222.5L501.5 225.9L493.7 231.5L489.5 233.3L487.5 233.5L484.5 233.0L481.4 231.5L479.2 229.5L478.1 226.5L477.8 218.5L476.3 209.5L476.6 205.5L478.5 198.5L486.0 187.5L488.2 179.5L487.5 177.5L485.2 175.5L481.5 173.9L478.5 173.4L472.5 175.1L470.2 176.5L468.4 178.5L464.7 188.5L459.2 198.5L454.9 208.5L449.6 218.5L449.0 222.5L449.2 229.5L450.5 236.5L451.9 239.5L455.9 242.5L466.0 246.5L472.8 251.5L476.5 253.3L482.5 254.4L494.5 253.9L499.5 251.9L506.5 246.8L516.5 241.8L522.5 237.2L526.5 235.2L532.5 234.1L546.5 234.6L551.5 236.5L554.0 238.5L554.9 241.5L554.7 248.5L552.5 252.5L546.5 259.8L534.2 268.5L534.0 270.5L537.5 273.2L540.5 274.3L544.5 274.7L613.5 274.8L619.5 275.2L625.5 276.7L631.5 282.4L636.5 284.4L654.5 285.0L659.5 286.1L663.5 288.1L669.2 292.5L678.5 298.3L680.7 300.5L683.1 305.5L684.3 309.5L684.1 312.5L681.7 318.5L679.6 321.5L675.5 324.1L670.5 325.5L643.5 325.6L639.5 325.1L636.5 324.1L632.8 321.5L632.2 319.5L635.5 312.5L635.7 310.5L635.2 309.5L632.5 307.3L627.5 305.6L592.5 305.4L586.1 307.5L583.2 310.5L583.1 312.5L583.8 313.5L585.5 314.3L592.5 315.3L606.5 315.7L610.5 317.0L613.2 318.5L614.2 319.5L615.0 321.5L613.0 328.5L613.4 331.5L629.7 349.5L633.5 353.0L643.5 358.6L650.0 363.5L653.5 365.2L657.5 366.1L691.5 366.0L697.9 363.5L700.2 361.5L701.3 359.5L703.2 353.5L703.3 350.5L699.3 340.5L698.5 330.5L693.5 320.5L693.1 312.5L694.2 308.5L699.1 300.5L708.9 292.5L711.0 289.5L710.9 287.5L708.7 281.5L708.0 277.5L708.0 262.5L708.4 260.5L709.5 258.5L713.5 255.9L718.5 254.6L754.5 254.4L754.5 356.1L741.5 356.3L738.5 356.9L734.7 358.5L731.3 361.5L726.4 371.5L724.2 373.5L720.5 375.3L715.5 376.4L693.5 376.5L688.5 377.2L683.6 379.5L678.5 383.5L668.8 389.5L661.5 394.8L656.5 396.5L649.5 397.3L644.5 399.3L641.1 402.5L637.7 410.5L637.0 414.5L637.0 423.5L636.5 423.5ZM694.5 60.5L690.5 61.2L686.5 60.8L682.9 59.5L679.9 57.5L678.5 55.5L678.1 53.5L678.0 43.5L702.0 43.5L701.9 53.5L701.3 56.5L699.4 58.5L694.5 60.5ZM541.1 121.5L545.5 119.7L547.9 117.5L548.9 114.5L548.7 108.5L546.9 105.5L543.6 103.5L539.5 102.3L535.5 102.7L531.5 104.5L529.3 106.5L528.6 109.5L529.5 114.5L530.9 117.5L533.5 119.7L537.5 121.4L541.1 121.5ZM552.5 203.5L544.5 203.1L540.2 201.5L537.5 199.5L535.7 196.5L534.6 190.5L534.9 188.5L536.5 186.6L542.5 183.8L549.5 183.3L555.5 184.4L560.6 187.5L562.0 189.5L562.8 192.5L563.4 196.5L563.0 198.5L561.5 200.3L559.5 201.6L556.5 202.8L552.5 203.5ZM663.0 203.5L669.5 201.6L673.8 198.5L679.3 190.5L679.6 188.5L678.5 186.7L673.5 184.0L666.5 183.3L654.5 183.6L650.5 184.8L647.6 186.5L645.9 188.5L645.6 190.5L646.7 196.5L648.5 199.5L651.2 201.5L654.5 202.8L658.5 203.5L663.0 203.5ZM754.5 243.9L746.5 243.9L741.9 242.5L737.5 239.6L730.4 232.5L728.0 229.5L727.1 226.5L727.2 220.5L729.0 217.5L732.5 215.5L735.5 215.5L738.5 216.9L745.5 221.8L754.5 222.1L754.5 243.9ZM570.4 335.5L576.1 333.5L579.3 330.5L580.0 327.5L579.9 321.5L579.5 319.1L578.5 317.5L576.5 316.6L572.5 315.9L563.5 315.5L557.1 316.5L552.5 318.5L551.2 321.5L551.0 327.5L551.7 330.5L553.5 332.5L556.5 334.3L560.5 335.5L570.4 335.5ZM723.4 335.5L726.9 334.5L730.2 332.5L731.0 331.5L730.7 329.5L726.5 326.7L720.5 325.7L714.5 326.7L710.2 329.5L710.0 331.5L713.5 334.2L718.5 335.6L723.4 335.5ZM717.5 423.5L666.0 423.5L666.3 413.5L667.2 411.5L669.4 409.5L678.5 403.8L684.1 399.5L688.7 397.5L693.5 396.8L732.5 396.6L738.5 394.8L746.5 389.6L754.5 389.6L754.5 406.9L729.5 407.0L723.4 408.5L720.1 410.5L718.6 412.5L718.0 415.5L718.0 423.5L717.5 423.5Z"/></g></g>
<g clip-path="url(#cp3)"><g filter="url(#soft)"><rect x="759" y="41" width="384" height="385" fill="#fff"/><path fill="#000" fill-rule="evenodd" d="M770.5 118.8L769.5 119.2L761.5 119.2L761.4 43.5L799.0 43.5L798.8 54.5L796.8 58.5L788.5 67.5L777.3 73.5L775.5 75.0L774.8 76.5L776.0 78.5L779.5 80.4L788.5 82.0L792.5 83.5L795.0 85.5L795.5 86.5L795.4 88.5L789.5 97.0L777.8 106.5L772.9 116.5L770.5 118.8ZM949.5 70.6L944.5 71.4L937.5 71.1L932.7 69.5L928.5 66.7L918.0 56.5L917.1 53.5L917.0 43.5L969.0 43.5L968.9 53.5L968.0 56.5L955.6 67.5L949.5 70.6ZM1007.5 423.5L964.0 423.5L963.9 414.5L963.4 411.5L957.4 401.5L952.5 398.2L941.1 394.5L934.3 389.5L930.5 387.9L927.5 388.2L924.7 389.5L919.6 393.5L909.9 399.5L903.2 404.5L899.5 406.0L895.5 406.7L884.5 406.8L880.5 406.3L875.8 404.5L869.1 399.5L864.7 397.5L860.5 396.7L847.5 396.4L842.5 394.7L839.1 392.5L832.5 384.5L831.5 382.5L831.8 380.5L843.0 370.5L847.5 367.7L850.5 366.7L854.5 366.3L918.5 366.2L923.5 365.7L927.0 364.5L929.9 362.5L931.3 360.5L931.9 356.5L932.5 356.0L943.5 355.7L947.5 354.5L950.8 352.5L952.3 350.5L952.9 348.5L952.5 341.5L949.9 338.5L944.5 336.2L940.5 336.2L935.1 338.5L933.0 340.5L932.2 342.5L932.0 355.5L931.5 356.1L876.5 356.0L871.5 354.9L867.0 352.5L851.5 339.5L840.7 332.5L839.9 331.5L839.6 329.5L845.3 320.5L845.9 315.5L850.5 315.2L853.5 314.3L861.5 308.4L872.5 302.7L874.8 300.5L875.4 297.5L874.1 289.5L874.1 281.5L874.9 277.5L877.3 271.5L879.5 268.5L889.8 260.5L896.8 253.5L899.1 250.5L899.1 248.5L895.5 245.8L890.5 244.4L880.5 244.3L875.5 245.3L871.5 247.4L869.4 249.5L865.5 257.9L863.5 260.5L860.5 262.6L855.5 264.2L820.5 264.5L814.5 263.8L811.4 262.5L808.4 260.5L806.5 258.2L801.0 248.5L792.3 239.5L788.4 236.5L784.5 234.8L781.5 234.2L761.5 234.0L761.5 203.5L813.5 203.6L817.5 204.0L820.5 205.0L823.2 206.5L825.3 208.5L827.2 214.5L827.7 219.5L826.0 232.5L826.2 237.5L827.1 239.5L830.5 242.3L835.5 243.9L844.5 244.2L849.5 243.5L853.7 241.5L854.8 240.5L855.5 238.5L854.8 236.5L849.2 228.5L847.4 223.5L844.3 209.5L843.7 198.5L840.2 188.5L838.9 182.5L838.8 177.5L843.1 169.5L846.5 165.9L856.5 159.7L861.5 155.8L867.5 153.2L872.5 152.7L899.5 152.7L903.7 153.5L908.1 155.5L911.6 158.5L919.2 167.5L921.3 174.5L921.4 176.5L920.8 178.5L919.0 180.5L906.1 190.5L895.5 195.3L892.1 197.5L882.6 206.5L881.7 208.5L882.0 209.5L885.5 212.1L890.5 213.5L929.5 213.7L932.5 214.2L936.5 215.6L940.4 218.5L947.0 228.5L956.8 238.5L957.9 241.5L957.9 247.5L956.3 251.5L949.5 258.8L927.4 278.5L920.1 287.5L919.4 289.5L920.0 291.5L925.3 297.5L926.8 300.5L926.0 303.5L921.5 310.5L918.5 312.9L913.5 314.9L899.5 315.5L895.5 316.2L890.9 318.5L889.8 320.5L890.5 321.9L892.5 323.5L895.5 324.7L899.5 325.5L947.5 325.5L951.5 325.0L955.6 323.5L964.2 317.5L974.5 313.9L978.5 311.5L986.0 303.5L988.3 299.5L987.7 293.5L986.1 289.5L975.5 279.0L969.6 271.5L967.2 267.5L964.5 259.5L964.6 256.5L965.9 250.5L968.2 247.5L973.5 245.0L977.5 244.3L986.5 244.1L991.5 242.7L994.9 240.5L996.0 237.5L993.5 230.5L992.2 228.5L989.8 226.5L984.5 224.3L977.5 223.5L974.0 222.5L970.2 220.5L967.5 218.0L959.0 206.5L953.1 193.5L952.1 190.5L952.1 188.5L955.0 185.5L961.5 183.4L1003.5 183.2L1008.5 182.5L1012.7 180.5L1014.7 178.5L1014.8 175.5L1013.0 170.5L1011.5 167.9L1009.5 166.0L1003.5 163.3L998.5 162.8L972.5 162.8L968.5 162.3L963.8 160.5L957.1 155.5L953.5 153.8L949.5 152.8L943.5 152.4L939.5 151.2L936.4 149.5L931.3 145.5L926.5 143.3L922.5 142.6L905.5 142.4L901.7 141.5L898.5 140.0L887.5 130.5L885.4 127.5L885.6 125.5L889.3 119.5L890.3 116.5L889.0 110.5L887.1 106.5L884.8 104.5L881.5 102.9L871.5 101.3L867.5 99.8L860.1 94.5L849.6 88.5L847.7 86.5L846.9 84.5L846.4 79.5L846.9 76.5L850.2 73.5L855.5 71.7L877.5 71.5L883.5 73.3L891.5 79.0L896.5 81.0L901.5 81.5L940.5 81.7L946.5 83.5L953.5 88.6L958.5 90.9L963.5 91.6L973.5 91.4L978.5 89.7L981.7 87.5L983.8 84.5L986.8 77.5L990.5 73.9L1001.5 69.4L1011.5 62.7L1015.5 61.5L1023.4 60.5L1028.5 58.0L1029.9 56.5L1030.8 54.5L1031.0 43.5L1077.0 43.5L1077.0 62.5L1077.5 65.6L1079.9 68.5L1089.5 74.5L1091.5 76.3L1097.0 85.5L1097.2 87.5L1096.4 90.5L1094.3 95.5L1092.5 97.8L1088.0 100.5L1082.5 101.7L1019.5 101.8L1013.5 102.6L1009.5 104.3L1006.6 106.5L999.5 116.3L997.3 118.5L983.6 125.5L982.1 127.5L982.1 129.5L984.3 135.5L986.5 138.5L991.5 141.4L997.5 142.5L1002.5 141.8L1006.5 140.0L1024.3 125.5L1028.1 123.5L1032.5 122.4L1046.5 122.2L1051.5 122.7L1056.5 124.7L1064.5 130.4L1069.5 132.1L1086.5 132.4L1091.5 131.9L1095.3 130.5L1098.5 128.5L1100.5 126.2L1107.0 116.5L1120.1 107.5L1126.5 97.8L1128.6 95.5L1132.5 93.5L1140.5 93.5L1140.5 203.5L1086.5 203.5L1081.5 203.0L1077.4 201.5L1074.4 199.5L1072.1 196.5L1068.4 189.5L1065.5 186.4L1059.5 183.7L1051.5 183.2L1045.5 183.4L1042.5 184.0L1038.9 185.5L1036.2 187.5L1034.2 190.5L1031.8 196.5L1031.0 203.5L1031.4 207.5L1032.5 209.5L1035.5 211.7L1040.5 213.4L1092.5 213.7L1098.5 214.4L1103.1 216.5L1106.4 219.5L1111.2 226.5L1113.5 231.7L1114.5 232.8L1117.4 233.5L1123.5 233.9L1140.5 234.0L1140.5 325.5L1081.5 325.5L1075.5 326.3L1071.1 328.5L1069.8 330.5L1070.8 332.5L1080.0 338.5L1082.3 341.5L1082.2 344.5L1081.0 349.5L1079.9 351.5L1077.5 353.5L1071.5 355.7L1065.5 355.7L1059.5 353.5L1052.8 348.5L1048.5 346.6L1043.5 345.8L1036.5 346.1L1031.5 347.8L1027.6 350.5L1022.0 358.5L1021.6 361.5L1022.5 362.8L1025.0 364.5L1035.5 367.7L1045.5 374.4L1051.5 376.2L1059.5 376.3L1063.9 375.5L1068.1 373.5L1074.9 368.5L1081.5 366.4L1140.5 366.2L1140.5 376.4L1123.5 376.4L1118.5 377.5L1113.2 380.5L1101.5 392.0L1097.5 394.7L1091.5 396.5L1079.5 396.7L1075.5 397.4L1070.9 399.5L1064.2 404.5L1059.5 406.3L1054.5 406.8L1020.5 406.8L1014.5 407.9L1010.5 410.1L1008.6 412.5L1008.0 415.5L1008.0 423.5L1007.5 423.5ZM794.5 192.6L789.5 193.4L761.5 193.4L761.5 142.5L787.5 142.4L791.5 141.4L795.5 139.3L797.9 136.5L798.8 133.5L801.7 118.5L802.5 107.5L804.0 105.5L807.5 103.3L813.5 101.9L838.5 101.8L843.2 102.5L847.5 104.4L849.8 106.5L850.4 109.5L849.1 116.5L846.8 124.5L844.4 128.5L832.5 137.3L827.9 144.5L826.2 148.5L825.8 158.5L823.6 167.5L821.2 170.5L801.5 188.7L798.5 190.9L794.5 192.6ZM1115.9 192.5L1120.0 190.5L1122.0 188.5L1122.9 185.5L1123.0 180.5L1122.3 176.5L1119.6 169.5L1113.5 158.8L1109.5 155.2L1103.5 153.0L1096.5 153.0L1090.0 155.5L1087.7 157.5L1085.9 160.5L1083.3 167.5L1081.9 173.5L1081.4 179.5L1082.5 185.5L1083.8 188.5L1087.7 191.5L1093.5 193.2L1110.5 193.4L1115.9 192.5ZM1052.7 314.5L1057.1 312.5L1063.9 307.5L1074.0 303.5L1077.2 301.5L1079.5 298.5L1083.1 290.5L1084.8 288.5L1087.5 286.8L1093.5 285.0L1110.5 284.3L1115.0 282.5L1117.3 280.5L1117.4 277.5L1114.3 271.5L1113.8 269.5L1114.0 267.5L1116.4 260.5L1116.4 256.5L1111.8 237.5L1110.8 235.5L1107.5 234.5L1099.5 234.0L1095.5 234.2L1091.5 235.1L1086.5 237.9L1070.5 251.3L1059.5 256.9L1051.6 262.5L1045.5 264.4L1033.5 265.0L1029.5 266.5L1026.8 268.5L1025.7 270.5L1025.7 272.5L1027.5 279.5L1030.5 282.3L1039.7 287.5L1041.5 289.5L1041.3 292.5L1038.6 297.5L1037.8 300.5L1038.4 303.5L1040.9 309.5L1043.5 312.2L1046.5 313.9L1049.5 314.7L1052.7 314.5ZM794.5 325.5L761.5 325.5L761.5 264.5L773.5 264.7L778.5 266.0L781.5 267.6L787.5 272.2L797.1 277.5L803.5 282.3L807.5 284.0L811.5 284.7L827.5 285.0L832.5 286.3L837.5 289.7L842.4 297.5L844.1 301.5L845.4 307.5L846.0 314.5L845.5 315.4L816.5 315.7L810.5 317.9L804.5 322.4L801.5 324.0L798.5 325.0L794.5 325.5ZM806.5 423.5L761.4 423.5L761.5 335.7L793.5 336.0L800.0 338.5L802.3 340.5L803.6 342.5L807.3 352.5L808.6 359.5L808.6 362.5L806.9 370.5L799.9 379.5L798.9 382.5L801.7 391.5L803.4 402.5L806.8 412.5L807.0 423.5L806.5 423.5ZM978.4 386.5L982.5 386.0L985.5 385.0L988.3 383.5L990.3 381.5L991.5 378.5L992.4 373.5L992.1 371.5L990.5 369.5L987.5 367.8L983.5 366.5L970.5 366.3L964.1 367.5L959.5 370.5L958.6 373.5L959.5 378.5L960.7 381.5L962.5 383.3L965.5 385.0L969.5 386.2L978.4 386.5ZM1140.5 423.6L1085.0 423.5L1085.2 413.5L1086.1 411.5L1088.3 409.5L1091.5 407.9L1095.5 407.0L1140.5 406.8L1140.5 423.6Z"/></g></g>
<g clip-path="url(#cp4)"><g filter="url(#soft)"><rect x="1145" y="41" width="380" height="385" fill="#fff"/><path fill="#000" fill-rule="evenodd" d="M1268.5 80.7L1262.5 81.5L1236.5 81.2L1231.5 79.5L1223.5 73.8L1218.5 71.8L1214.5 71.3L1187.5 71.0L1182.5 69.3L1174.5 63.6L1169.5 61.6L1165.5 61.2L1147.5 61.1L1147.4 43.5L1284.0 43.5L1284.0 52.5L1283.5 55.5L1281.1 58.5L1274.2 64.5L1273.1 66.5L1273.1 68.5L1275.0 74.5L1274.8 76.5L1272.5 78.9L1268.5 80.7ZM1297.5 314.8L1292.5 315.2L1248.5 315.2L1240.5 314.3L1237.5 313.3L1233.6 308.5L1224.4 302.5L1222.9 300.5L1222.9 299.5L1224.7 297.5L1229.5 295.5L1247.5 294.7L1251.4 293.5L1254.6 291.5L1255.9 289.5L1255.9 287.5L1253.1 280.5L1250.2 277.5L1244.5 275.1L1238.5 274.6L1147.5 274.6L1147.5 193.3L1169.5 193.2L1176.5 192.3L1179.0 191.5L1180.5 189.5L1181.1 180.5L1182.5 177.2L1184.6 175.5L1188.5 173.8L1197.5 172.5L1202.3 170.5L1205.3 167.5L1206.0 162.5L1205.6 158.5L1204.3 156.5L1201.4 154.5L1192.5 151.1L1188.2 148.5L1178.2 135.5L1169.3 126.5L1158.5 116.7L1155.5 115.0L1147.5 115.0L1147.5 91.6L1174.5 91.6L1179.5 92.4L1184.2 94.5L1190.5 99.2L1200.5 104.2L1206.5 108.8L1210.5 110.9L1214.5 111.8L1222.5 112.0L1226.5 112.8L1230.5 114.5L1237.5 119.7L1242.5 121.6L1247.5 122.1L1260.5 121.8L1266.5 119.7L1274.5 114.0L1285.4 110.5L1289.9 107.5L1291.4 105.5L1295.5 96.5L1304.5 86.5L1308.6 75.5L1314.5 66.0L1317.5 63.6L1320.5 62.2L1331.8 59.5L1335.9 56.5L1336.9 53.5L1337.0 43.5L1454.0 43.5L1454.4 55.5L1456.0 58.5L1460.4 64.5L1461.1 66.5L1460.9 68.5L1459.1 73.5L1456.5 77.5L1445.6 84.5L1440.5 88.5L1435.5 90.8L1430.5 91.6L1391.5 91.9L1385.5 94.1L1379.5 98.6L1375.5 100.6L1371.5 101.6L1363.5 102.0L1357.5 104.3L1354.9 106.5L1353.9 108.5L1352.6 116.5L1353.8 119.5L1363.2 134.5L1363.8 136.5L1363.1 138.5L1358.5 141.4L1348.4 144.5L1338.5 151.1L1334.5 152.3L1324.5 153.1L1320.7 154.5L1318.0 156.5L1317.4 157.5L1317.4 159.5L1320.4 165.5L1320.8 167.5L1320.1 169.5L1314.0 176.5L1313.6 178.5L1314.6 180.5L1321.0 187.5L1322.6 190.5L1324.8 198.5L1324.8 208.5L1322.9 215.5L1321.5 218.5L1310.7 228.5L1307.8 234.5L1307.0 238.5L1308.2 240.5L1310.5 242.1L1314.0 243.5L1323.2 245.5L1326.6 247.5L1327.9 249.5L1327.6 252.5L1325.5 257.8L1323.6 260.5L1316.5 267.5L1315.7 269.5L1316.5 271.1L1318.5 272.6L1322.5 274.1L1333.5 274.8L1338.5 276.1L1342.2 278.5L1343.3 280.5L1343.4 282.5L1342.1 288.5L1340.8 291.5L1335.5 299.2L1332.5 302.0L1326.5 304.6L1316.5 305.3L1312.5 306.2L1308.5 308.2L1302.5 312.7L1297.5 314.8ZM1485.5 423.5L1361.0 423.5L1361.0 413.5L1360.3 408.5L1358.8 401.5L1356.5 398.9L1351.5 397.3L1347.5 396.7L1307.5 396.6L1301.5 396.8L1298.1 397.5L1294.1 399.5L1292.6 401.5L1292.8 403.5L1298.6 412.5L1299.0 423.5L1272.0 423.5L1272.0 415.5L1271.5 412.5L1268.8 409.5L1263.5 407.2L1258.5 406.7L1232.5 406.7L1224.5 407.5L1218.9 410.5L1217.5 412.5L1217.1 414.5L1217.0 423.5L1147.5 423.6L1147.5 356.0L1209.5 355.9L1213.5 355.2L1216.5 353.9L1218.5 352.5L1219.4 350.5L1218.7 348.5L1217.2 346.5L1209.5 338.7L1204.9 336.5L1196.5 334.8L1192.5 333.1L1189.5 331.0L1177.0 319.5L1173.5 317.2L1169.5 315.8L1166.5 315.3L1147.5 315.3L1147.5 295.0L1189.5 295.0L1195.5 296.1L1201.3 299.5L1212.6 310.5L1215.5 312.7L1220.5 314.8L1231.5 316.7L1232.8 317.5L1235.8 321.5L1238.5 323.5L1248.6 327.5L1257.5 333.7L1261.5 335.1L1264.5 335.5L1306.5 335.6L1311.5 335.1L1317.5 332.5L1322.6 328.5L1332.3 322.5L1337.3 318.5L1341.5 316.4L1346.5 315.3L1367.5 315.1L1371.5 314.1L1374.5 312.6L1376.6 310.5L1376.8 308.5L1374.2 302.5L1368.7 292.5L1368.0 290.5L1368.1 288.5L1378.5 269.5L1380.7 267.5L1390.0 261.5L1391.3 259.5L1389.8 256.5L1381.5 248.3L1376.5 240.5L1376.6 238.5L1377.3 237.5L1384.6 231.5L1386.1 229.5L1386.1 228.5L1384.7 226.5L1375.8 220.5L1374.9 218.5L1375.5 217.2L1377.7 215.5L1387.7 211.5L1389.5 210.0L1390.2 208.5L1389.0 206.5L1384.5 204.3L1380.5 203.5L1366.5 203.0L1361.5 200.9L1359.0 198.5L1358.4 195.5L1358.9 179.5L1356.5 167.5L1359.0 158.5L1362.5 155.1L1368.5 152.9L1386.5 152.6L1392.5 153.7L1396.1 155.5L1398.1 157.5L1398.8 159.5L1399.7 168.5L1404.8 177.5L1419.1 190.5L1422.5 192.1L1426.5 193.1L1455.5 193.3L1459.5 194.0L1462.9 195.5L1465.1 197.5L1465.3 199.5L1460.0 206.5L1458.9 209.5L1459.6 212.5L1461.8 217.5L1464.4 220.5L1473.9 226.5L1475.9 228.5L1476.8 230.5L1477.2 237.5L1479.0 240.5L1482.2 242.5L1485.5 243.5L1488.5 243.3L1491.5 242.2L1494.0 240.5L1495.4 238.5L1496.2 230.5L1496.8 228.5L1503.2 220.5L1504.7 217.5L1505.1 199.5L1506.4 190.5L1505.5 187.4L1501.5 184.6L1496.5 183.3L1451.5 183.1L1447.5 182.6L1444.3 181.5L1441.4 179.5L1440.8 177.5L1442.0 175.5L1447.8 169.5L1448.2 167.5L1446.7 165.5L1429.5 154.1L1425.5 152.9L1417.5 152.1L1412.5 150.1L1400.7 140.5L1398.8 137.5L1399.0 136.5L1401.0 134.5L1409.0 129.5L1414.5 125.2L1418.5 123.2L1422.5 122.3L1433.5 122.2L1438.5 122.9L1442.5 124.6L1450.5 130.3L1456.5 132.1L1472.5 132.2L1476.4 131.5L1479.5 130.3L1482.1 128.5L1484.1 125.5L1485.3 120.5L1485.1 117.5L1483.7 115.5L1480.5 113.5L1477.5 112.5L1469.5 111.2L1464.3 108.5L1463.0 106.5L1462.9 104.5L1464.2 99.5L1465.7 96.5L1468.5 94.1L1472.5 92.4L1476.5 91.7L1486.5 91.3L1492.5 89.1L1494.5 87.5L1495.6 85.5L1496.1 78.5L1496.8 76.5L1498.5 74.5L1501.5 72.8L1507.5 71.3L1522.5 71.3L1522.5 274.6L1479.5 274.6L1475.5 275.1L1471.5 276.5L1463.0 282.5L1453.5 286.2L1449.9 288.5L1448.2 291.5L1447.9 297.5L1446.9 300.5L1433.4 311.5L1421.3 319.5L1419.2 322.5L1416.7 329.5L1417.2 333.5L1420.4 340.5L1422.5 342.6L1431.9 348.5L1434.7 351.5L1436.7 360.5L1435.5 369.5L1435.7 372.5L1438.9 380.5L1440.5 382.5L1443.5 384.5L1447.5 386.0L1451.5 386.4L1522.5 386.5L1522.5 406.7L1497.5 406.8L1490.9 408.5L1487.9 410.5L1486.5 412.5L1486.0 415.5L1486.0 423.5L1485.5 423.5ZM1246.5 100.6L1242.5 101.2L1238.5 100.2L1235.1 97.5L1235.2 95.5L1237.7 93.5L1241.5 92.2L1244.5 92.2L1247.5 93.1L1249.9 94.5L1251.1 96.5L1250.2 98.5L1246.5 100.6ZM1246.8 162.5L1250.8 161.5L1254.4 159.5L1255.9 157.5L1255.9 155.5L1253.7 149.5L1251.5 146.5L1247.5 144.0L1243.5 143.5L1239.5 145.0L1236.7 147.5L1235.2 151.5L1234.7 156.5L1235.6 158.5L1238.5 160.7L1242.5 162.2L1246.8 162.5ZM1273.1 263.5L1277.1 261.5L1278.1 260.5L1279.0 258.5L1278.8 256.5L1276.9 251.5L1274.1 247.5L1263.0 237.5L1252.5 230.8L1246.9 226.5L1242.5 224.5L1232.5 222.2L1229.4 220.5L1226.5 217.5L1222.8 211.5L1221.9 208.5L1222.4 206.5L1225.7 199.5L1225.3 197.5L1224.4 196.5L1219.5 194.0L1214.5 193.3L1193.5 193.4L1186.5 194.4L1184.3 195.5L1183.5 197.0L1183.1 199.5L1183.0 205.5L1183.7 208.5L1192.6 218.5L1200.5 230.5L1209.8 240.5L1213.2 242.5L1221.3 245.5L1224.9 247.5L1236.5 259.7L1239.5 262.0L1242.5 263.4L1246.5 264.3L1250.5 264.5L1267.5 264.4L1273.1 263.5ZM1500.1 263.5L1503.9 261.5L1505.2 259.5L1505.0 258.5L1503.5 257.0L1498.5 254.8L1493.5 254.3L1486.5 254.6L1481.5 256.3L1479.0 258.5L1479.2 260.5L1480.1 261.5L1485.5 264.0L1494.5 264.4L1500.1 263.5ZM1522.5 366.1L1485.5 366.1L1481.5 365.6L1478.2 364.5L1475.2 362.5L1474.0 360.5L1474.2 358.5L1476.0 352.5L1474.9 349.5L1472.5 347.7L1469.5 346.5L1458.5 345.2L1452.5 342.5L1450.8 340.5L1450.1 338.5L1450.1 333.5L1450.9 330.5L1453.6 327.5L1464.3 318.5L1474.0 312.5L1479.5 308.2L1483.5 306.2L1489.5 305.2L1522.5 305.1L1522.5 366.1ZM1158.5 334.8L1155.5 335.4L1147.5 335.4L1147.5 325.6L1156.5 325.8L1160.5 327.0L1163.0 328.5L1163.8 329.5L1163.9 331.5L1161.7 333.5L1158.5 334.8ZM1380.9 396.5L1384.5 395.8L1387.8 394.5L1390.6 392.5L1392.1 390.5L1394.7 381.5L1395.3 371.5L1398.1 362.5L1397.6 359.5L1392.3 351.5L1387.5 347.7L1383.5 346.2L1376.5 345.4L1373.2 344.5L1369.4 342.5L1364.2 338.5L1360.5 336.8L1357.5 336.6L1354.7 337.5L1351.9 339.5L1351.0 341.5L1352.9 348.5L1352.7 351.5L1345.8 359.5L1344.8 361.5L1344.7 364.5L1346.3 370.5L1349.1 373.5L1359.6 380.5L1360.9 382.5L1363.2 391.5L1364.5 393.6L1366.5 394.8L1372.5 396.3L1380.9 396.5ZM1297.4 375.5L1301.6 373.5L1302.6 372.5L1303.0 370.5L1300.5 368.2L1295.5 366.4L1276.5 366.4L1271.5 368.2L1269.0 370.5L1269.4 372.5L1270.4 373.5L1276.5 375.9L1292.5 376.2L1297.4 375.5Z"/></g></g>
<g clip-path="url(#cp5)"><g filter="url(#soft)"><rect x="1527" y="41" width="384" height="385" fill="#000"/><path fill="#fff" fill-rule="evenodd" d="M1621.5 374.6L1618.5 375.3L1615.5 375.2L1609.4 372.5L1595.1 361.5L1593.7 359.5L1591.1 352.5L1589.5 350.4L1585.5 347.8L1580.5 346.4L1572.1 346.5L1566.1 348.5L1562.5 351.0L1551.5 361.4L1546.5 364.0L1541.5 365.2L1529.5 365.3L1529.5 295.3L1590.5 295.3L1595.5 295.8L1600.1 297.5L1603.0 299.5L1609.7 309.5L1612.5 312.3L1616.9 314.5L1621.5 315.4L1672.5 315.2L1678.5 312.9L1684.5 308.4L1688.5 306.3L1692.5 305.4L1699.5 304.9L1704.0 303.5L1707.1 301.5L1709.2 298.5L1710.5 292.5L1710.1 289.5L1705.1 280.5L1696.1 269.5L1692.8 260.5L1693.9 256.5L1704.2 239.5L1704.5 237.5L1703.5 230.5L1704.8 226.5L1708.3 220.5L1711.1 217.5L1714.6 215.5L1724.5 211.6L1733.1 205.5L1738.5 204.0L1753.5 203.5L1759.5 201.2L1761.5 199.5L1762.4 197.5L1761.3 190.5L1760.5 188.5L1758.2 185.5L1751.2 178.5L1747.5 175.7L1742.5 173.8L1732.5 172.3L1728.8 170.5L1721.5 165.3L1717.5 163.8L1714.5 163.4L1687.5 163.3L1681.5 164.4L1677.5 166.5L1675.4 168.5L1671.6 176.5L1669.5 179.2L1666.5 181.3L1662.5 182.7L1658.5 183.2L1647.5 183.1L1643.5 182.1L1640.2 180.5L1637.7 177.5L1637.5 168.5L1634.1 160.5L1631.3 156.5L1623.5 148.5L1618.5 144.8L1607.5 141.3L1597.6 134.5L1585.8 129.5L1582.4 126.5L1576.4 118.5L1576.0 115.5L1578.8 108.5L1581.3 105.5L1590.2 97.5L1591.7 94.5L1593.4 88.5L1593.5 84.5L1592.0 77.5L1586.7 66.5L1583.1 63.5L1578.5 61.7L1574.5 61.3L1564.5 61.4L1557.9 63.5L1551.2 68.5L1546.5 70.7L1542.5 71.4L1529.5 71.5L1529.5 43.4L1627.0 43.5L1627.0 52.5L1627.5 55.5L1630.2 58.5L1634.5 60.5L1639.5 61.2L1677.5 61.3L1683.5 62.3L1687.5 64.4L1694.5 69.5L1704.4 73.5L1706.5 75.1L1707.2 76.5L1706.2 78.5L1701.5 81.0L1697.5 81.7L1686.5 82.1L1682.2 83.5L1679.2 85.5L1678.2 87.5L1678.8 90.5L1681.9 96.5L1685.1 99.5L1690.5 101.8L1695.5 102.0L1701.5 99.8L1708.5 94.9L1710.5 94.7L1712.5 95.4L1714.5 97.2L1715.9 99.5L1718.9 107.5L1720.8 115.5L1722.8 118.5L1737.5 129.9L1741.5 131.7L1751.5 134.0L1754.5 135.7L1759.5 139.6L1763.5 141.7L1769.5 142.8L1806.5 142.9L1810.5 143.6L1814.5 145.5L1816.3 147.5L1816.4 148.5L1815.6 150.5L1808.5 158.5L1799.3 166.5L1797.4 169.5L1797.1 177.5L1799.0 190.5L1799.0 195.5L1798.2 198.5L1795.5 201.3L1784.6 208.5L1776.6 216.5L1773.9 220.5L1772.4 228.5L1772.9 231.5L1774.8 236.5L1774.6 239.5L1772.7 241.5L1769.5 243.1L1759.5 244.7L1755.0 246.5L1752.1 249.5L1752.3 252.5L1755.4 259.5L1757.5 261.6L1761.0 263.5L1764.5 264.5L1771.5 265.0L1775.5 265.9L1779.5 268.0L1785.4 272.5L1790.5 274.6L1809.5 275.2L1812.5 275.8L1816.3 277.5L1818.5 279.5L1819.0 281.5L1814.8 296.5L1814.8 299.5L1816.0 301.5L1819.0 303.5L1828.5 307.7L1836.5 313.5L1846.2 316.5L1849.5 318.0L1856.5 323.3L1866.5 328.5L1868.1 330.5L1867.5 332.5L1866.3 333.5L1856.5 338.5L1849.5 343.8L1844.5 345.8L1840.5 346.1L1835.5 344.8L1831.7 342.5L1819.4 330.5L1814.9 327.5L1809.5 326.0L1797.5 325.7L1793.5 325.0L1788.5 322.6L1782.5 318.0L1777.5 316.0L1771.5 315.5L1724.5 315.8L1718.5 318.0L1712.7 322.5L1709.5 324.3L1705.5 325.5L1697.5 326.6L1693.5 328.3L1690.5 330.6L1680.8 339.5L1678.6 342.5L1675.5 350.5L1674.7 359.5L1673.6 361.5L1671.5 363.1L1668.0 364.5L1664.5 365.2L1641.5 365.3L1636.5 365.9L1631.5 367.9L1625.5 372.6L1621.5 374.6ZM1735.7 152.5L1740.3 150.5L1741.5 149.5L1742.1 147.5L1740.5 145.5L1735.5 143.3L1729.5 142.8L1723.5 143.3L1718.5 145.5L1716.9 147.5L1717.5 149.5L1718.7 150.5L1723.3 152.5L1729.5 153.0L1735.7 152.5ZM1908.5 221.3L1900.5 221.3L1897.5 219.5L1886.9 208.5L1882.7 201.5L1881.2 197.5L1881.0 191.5L1881.5 187.5L1886.1 176.5L1892.2 167.5L1895.5 165.3L1900.5 163.6L1908.5 163.6L1908.5 221.3ZM1538.5 273.8L1529.5 274.0L1529.5 193.5L1609.5 193.5L1614.5 194.6L1619.2 197.5L1620.4 200.5L1619.4 206.5L1617.9 209.5L1615.5 211.5L1612.5 212.9L1608.5 213.9L1591.5 214.5L1587.5 216.0L1583.8 218.5L1574.0 230.5L1557.0 248.5L1551.3 260.5L1545.1 269.5L1542.5 271.9L1538.5 273.8ZM1842.5 274.5L1838.5 274.5L1833.7 272.5L1831.9 270.5L1832.4 268.5L1835.2 266.5L1839.5 265.2L1843.5 265.6L1847.5 267.5L1849.1 269.5L1848.5 271.5L1845.5 273.5L1842.5 274.5Z"/></g></g>
<g font-size="59">
<text x="-2" y="42.7">(a)</text>
<text x="100.8" y="42.7"><tspan font-style="italic">d</tspan>~1.0 nm</text>
<text x="466.4" y="42.7">~1.4 nm</text>
<text x="844.5" y="42.7">~2.0 nm</text>
<text x="1219" y="42.7">~2.6 nm</text>
<text x="1608" y="42.7">~3.1 nm</text>
</g>
<rect x="144" y="499" width="750" height="522" fill="none" stroke="#000" stroke-width="2.1"/>
<path d="M144.0 1021v-10M144.0 499v10M358.3 1021v-10M358.3 499v10M572.6 1021v-10M572.6 499v10M786.9 1021v-10M786.9 499v10M251.1 1021v-5M251.1 499v5M465.4 1021v-5M465.4 499v5M679.7 1021v-5M679.7 499v5M144 1021.0h10M894 1021.0h-10M144 760.0h10M894 760.0h-10M144 499.0h10M894 499.0h-10M144 890.5h5M894 890.5h-5M144 629.5h5M894 629.5h-5" stroke="#000" stroke-width="2" fill="none"/>
<g font-size="64" text-anchor="end">
<text x="131" y="1040.0">0</text>
<text x="131" y="779.0">1</text>
<text x="131" y="518.0">2</text>
</g><g font-size="64" text-anchor="middle">
<text x="144.0" y="1083">0</text>
<text x="358.3" y="1083">1</text>
<text x="572.6" y="1083">2</text>
<text x="786.9" y="1083">3</text>
</g>
<text x="521" y="1145.3" font-size="64.4" text-anchor="middle">Ta thickness (nm)</text>
<text transform="translate(77 759) rotate(-90)" font-size="64" text-anchor="middle"><tspan font-style="italic">D</tspan> (mJ m<tspan font-size="44" dy="-23">-2</tspan><tspan dy="23">)</tspan></text>
<text x="166" y="570" font-size="47.5">(b)</text>
<path d="M358.3 974.6L465.4 775.0L572.6 832.5L701.1 789.0L808.3 818.0" stroke="#000" stroke-width="2.4" fill="none" stroke-dasharray="13.5 13.5"/>
<rect x="339.8" y="956.1" width="37" height="37" fill="#000" stroke="#000" stroke-width="1" />
<path d="M358.3 962.2V988.0M338.3 962.2h40M338.3 988.0h40" stroke="#000" stroke-width="2.4" fill="none"/>
<rect x="446.9" y="756.5" width="37" height="37" fill="#000" stroke="#000" stroke-width="1" />
<path d="M465.4 743.4V809.3M445.4 743.4h40M445.4 809.3h40" stroke="#000" stroke-width="2.4" fill="none"/>
<rect x="554.1" y="814.0" width="37" height="37" fill="#000" stroke="#000" stroke-width="1" />
<path d="M572.6 785.0V880.0M552.6 785.0h40M552.6 880.0h40" stroke="#000" stroke-width="2.4" fill="none"/>
<rect x="682.6" y="770.5" width="37" height="37" fill="#000" stroke="#000" stroke-width="1" />
<path d="M701.1 722.3V855.8M681.1 722.3h40M681.1 855.8h40" stroke="#000" stroke-width="2.4" fill="none"/>
<rect x="789.8" y="799.5" width="37" height="37" fill="#000" stroke="#000" stroke-width="1" />
<path d="M808.3 774.5V859.0M788.3 774.5h40M788.3 859.0h40" stroke="#000" stroke-width="2.4" fill="none"/>
<path d="M358.3 977.0L465.4 808.0L572.6 851.7L701.1 831.7L808.3 782.0" stroke="#0000ff" stroke-width="2.4" fill="none" stroke-dasharray="13.5 13.5"/>
<rect x="341.1" y="959.9" width="34.3" height="34.3" fill="none" stroke="#0000ff" stroke-width="2.7"/>
<path d="M358.3 975.6V978.6M338.3 975.6h40M338.3 978.6h40" stroke="#0000ff" stroke-width="2.4" fill="none"/>
<rect x="448.3" y="790.9" width="34.3" height="34.3" fill="none" stroke="#0000ff" stroke-width="2.7"/>
<path d="M465.4 778.0V838.0M445.4 778.0h40M445.4 838.0h40" stroke="#0000ff" stroke-width="2.4" fill="none"/>
<rect x="555.4" y="834.6" width="34.3" height="34.3" fill="none" stroke="#0000ff" stroke-width="2.7"/>
<path d="M572.6 794.2V909.6M552.6 794.2h40M552.6 909.6h40" stroke="#0000ff" stroke-width="2.4" fill="none"/>
<rect x="684.0" y="814.6" width="34.3" height="34.3" fill="none" stroke="#0000ff" stroke-width="2.7"/>
<path d="M701.1 765.6V898.5M681.1 765.6h40M681.1 898.5h40" stroke="#0000ff" stroke-width="2.4" fill="none"/>
<rect x="791.1" y="764.9" width="34.3" height="34.3" fill="none" stroke="#0000ff" stroke-width="2.7"/>
<path d="M808.3 736.5V830.3M788.3 736.5h40M788.3 830.3h40" stroke="#0000ff" stroke-width="2.4" fill="none"/>
<path d="M399.2 985.7L530.0 731.4L661.5 715.2L792.4 707.6" stroke="#ff0000" stroke-width="2.6" fill="none"/>
<circle cx="399.2" cy="985.7" r="18.6" fill="#ff0000"/>
<circle cx="530" cy="731.4" r="18.6" fill="#ff0000"/>
<circle cx="661.5" cy="715.2" r="18.6" fill="#ff0000"/>
<circle cx="792.4" cy="707.6" r="18.6" fill="#ff0000"/>
<rect x="162" y="594" width="274.4" height="224" fill="#fff" stroke="#787878" stroke-width="1.4"/>
<path d="M178 621H274.6" stroke="#ff0000" stroke-width="2.6"/>
<circle cx="226.1" cy="621" r="18.5" fill="#ff0000"/>
<text x="285.5" y="636.3" font-size="42.5">Expt.</text>
<text x="192.3" y="693.2" font-size="42.2"><tspan font-style="italic">K</tspan><tspan font-size="30" dy="11">eff</tspan><tspan dy="-11"> (MJ m</tspan><tspan font-size="30" dy="-18">-3</tspan><tspan dy="18">)</tspan></text>
<path d="M178 739.6h14.5M258 739.6h14.5" stroke="#000" stroke-width="2.4"/>
<rect x="208" y="721" width="37" height="37" fill="#000"/>
<text x="284.8" y="753.6" font-size="42.5">0.24</text>
<path d="M178 791h14.5M205 791h13.5M232 791h13.5M258 791h14.5" stroke="#0000ff" stroke-width="2.4"/>
<rect x="209.4" y="774" width="34.3" height="34.3" fill="none" stroke="#0000ff" stroke-width="2.7"/>
<text x="284.8" y="805.4" font-size="42.5">0.37</text>
<rect x="1092" y="500" width="750" height="522" fill="none" stroke="#000" stroke-width="2.1"/>
<path d="M1092.0 1022v-10M1092.0 500v10M1306.3 1022v-10M1306.3 500v10M1520.6 1022v-10M1520.6 500v10M1734.9 1022v-10M1734.9 500v10M1199.1 1022v-5M1199.1 500v5M1413.4 1022v-5M1413.4 500v5M1627.7 1022v-5M1627.7 500v5M1092 1022.0h10M1842 1022.0h-10M1092 891.5h10M1842 891.5h-10M1092 761.0h10M1842 761.0h-10M1092 630.5h10M1842 630.5h-10M1092 500.0h10M1842 500.0h-10M1092 956.8h5M1842 956.8h-5M1092 826.2h5M1842 826.2h-5M1092 695.8h5M1842 695.8h-5M1092 565.2h5M1842 565.2h-5" stroke="#000" stroke-width="2" fill="none"/>
<g font-size="64" text-anchor="end">
<text x="1081.5" y="1042.0">0.0</text>
<text x="1081.5" y="911.5">0.1</text>
<text x="1081.5" y="781.0">0.2</text>
<text x="1081.5" y="650.5">0.3</text>
<text x="1081.5" y="520.0">0.4</text>
</g><g font-size="64" text-anchor="middle">
<text x="1092.0" y="1083.2">0</text>
<text x="1306.3" y="1083.2">1</text>
<text x="1520.6" y="1083.2">2</text>
<text x="1734.9" y="1083.2">3</text>
</g>
<text x="1469.8" y="1147.5" font-size="64.4" text-anchor="middle">Ta thickness (nm)</text>
<text transform="translate(973 764) rotate(-90)" font-size="62" text-anchor="middle" font-style="italic">σ</text>
<text x="1119.5" y="570" font-size="47.5">(c)</text>
<path d="M1306.3 763.5L1413.4 830.8L1520.6 857.1L1649.1 869.4L1756.3 868.3" stroke="#000" stroke-width="2.4" fill="none" stroke-dasharray="13.5 13.5"/>
<rect x="1287.8" y="745.0" width="37" height="37" fill="#000" stroke="#000" stroke-width="1" />
<path d="M1306.3 758.4V767.9M1286.3 758.4h40M1286.3 767.9h40" stroke="#000" stroke-width="2.4" fill="none"/>
<rect x="1394.9" y="812.3" width="37" height="37" fill="#000" stroke="#000" stroke-width="1" />
<path d="M1413.4 825.9V835.4M1393.4 825.9h40M1393.4 835.4h40" stroke="#000" stroke-width="2.4" fill="none"/>
<rect x="1502.1" y="838.6" width="37" height="37" fill="#000" stroke="#000" stroke-width="1" />
<path d="M1520.6 852.2V863.0M1500.6 852.2h40M1500.6 863.0h40" stroke="#000" stroke-width="2.4" fill="none"/>
<rect x="1630.6" y="850.9" width="37" height="37" fill="#000" stroke="#000" stroke-width="1" />
<path d="M1649.1 859.7V879.0M1629.1 859.7h40M1629.1 879.0h40" stroke="#000" stroke-width="2.4" fill="none"/>
<rect x="1737.8" y="849.8" width="37" height="37" fill="#000" stroke="#000" stroke-width="1" />
<path d="M1756.3 863.7V873.0M1736.3 863.7h40M1736.3 873.0h40" stroke="#000" stroke-width="2.4" fill="none"/>
<path d="M1306.3 771.4L1413.4 776.0L1520.6 802.3L1649.1 818.2L1756.3 835.8" stroke="#0000ff" stroke-width="2.4" fill="none" stroke-dasharray="13.5 13.5"/>
<rect x="1289.1" y="754.2" width="34.3" height="34.3" fill="none" stroke="#0000ff" stroke-width="2.7"/>
<path d="M1306.3 747.7V794.7M1286.3 747.7h40M1286.3 794.7h40" stroke="#0000ff" stroke-width="2.4" fill="none"/>
<rect x="1396.3" y="758.9" width="34.3" height="34.3" fill="none" stroke="#0000ff" stroke-width="2.7"/>
<path d="M1413.4 772.3V779.4M1393.4 772.3h40M1393.4 779.4h40" stroke="#0000ff" stroke-width="2.4" fill="none"/>
<rect x="1503.4" y="785.1" width="34.3" height="34.3" fill="none" stroke="#0000ff" stroke-width="2.7"/>
<path d="M1520.6 795.5V808.9M1500.6 795.5h40M1500.6 808.9h40" stroke="#0000ff" stroke-width="2.4" fill="none"/>
<rect x="1632.0" y="801.1" width="34.3" height="34.3" fill="none" stroke="#0000ff" stroke-width="2.7"/>
<path d="M1649.1 806.1V831.1M1629.1 806.1h40M1629.1 831.1h40" stroke="#0000ff" stroke-width="2.4" fill="none"/>
<rect x="1739.1" y="818.6" width="34.3" height="34.3" fill="none" stroke="#0000ff" stroke-width="2.7"/>
<path d="M1756.3 829.2V842.6M1736.3 829.2h40M1736.3 842.6h40" stroke="#0000ff" stroke-width="2.4" fill="none"/>
<rect x="1535.5" y="523.5" width="262" height="172" fill="#fff" stroke="#787878" stroke-width="1.4"/>
<text x="1553.5" y="570.4" font-size="42.2"><tspan font-style="italic">K</tspan><tspan font-size="30" dy="11">eff</tspan><tspan dy="-11"> (MJ m</tspan><tspan font-size="30" dy="-18">-3</tspan><tspan dy="18">)</tspan></text>
<path d="M1551 616.2h14.5M1631 616.2h14" stroke="#000" stroke-width="2.4"/>
<rect x="1581" y="598" width="37" height="37" fill="#000"/>
<text x="1658.6" y="631.7" font-size="42.5">0.24</text>
<path d="M1551 667.6h14.5M1578 667.6h13.5M1605 667.6h13.5M1631 667.6h14" stroke="#0000ff" stroke-width="2.4"/>
<rect x="1582.6" y="651.1" width="34.3" height="34.3" fill="none" stroke="#0000ff" stroke-width="2.7"/>
<text x="1658.6" y="682.6" font-size="42.5">0.37</text>
</svg></body></html>
